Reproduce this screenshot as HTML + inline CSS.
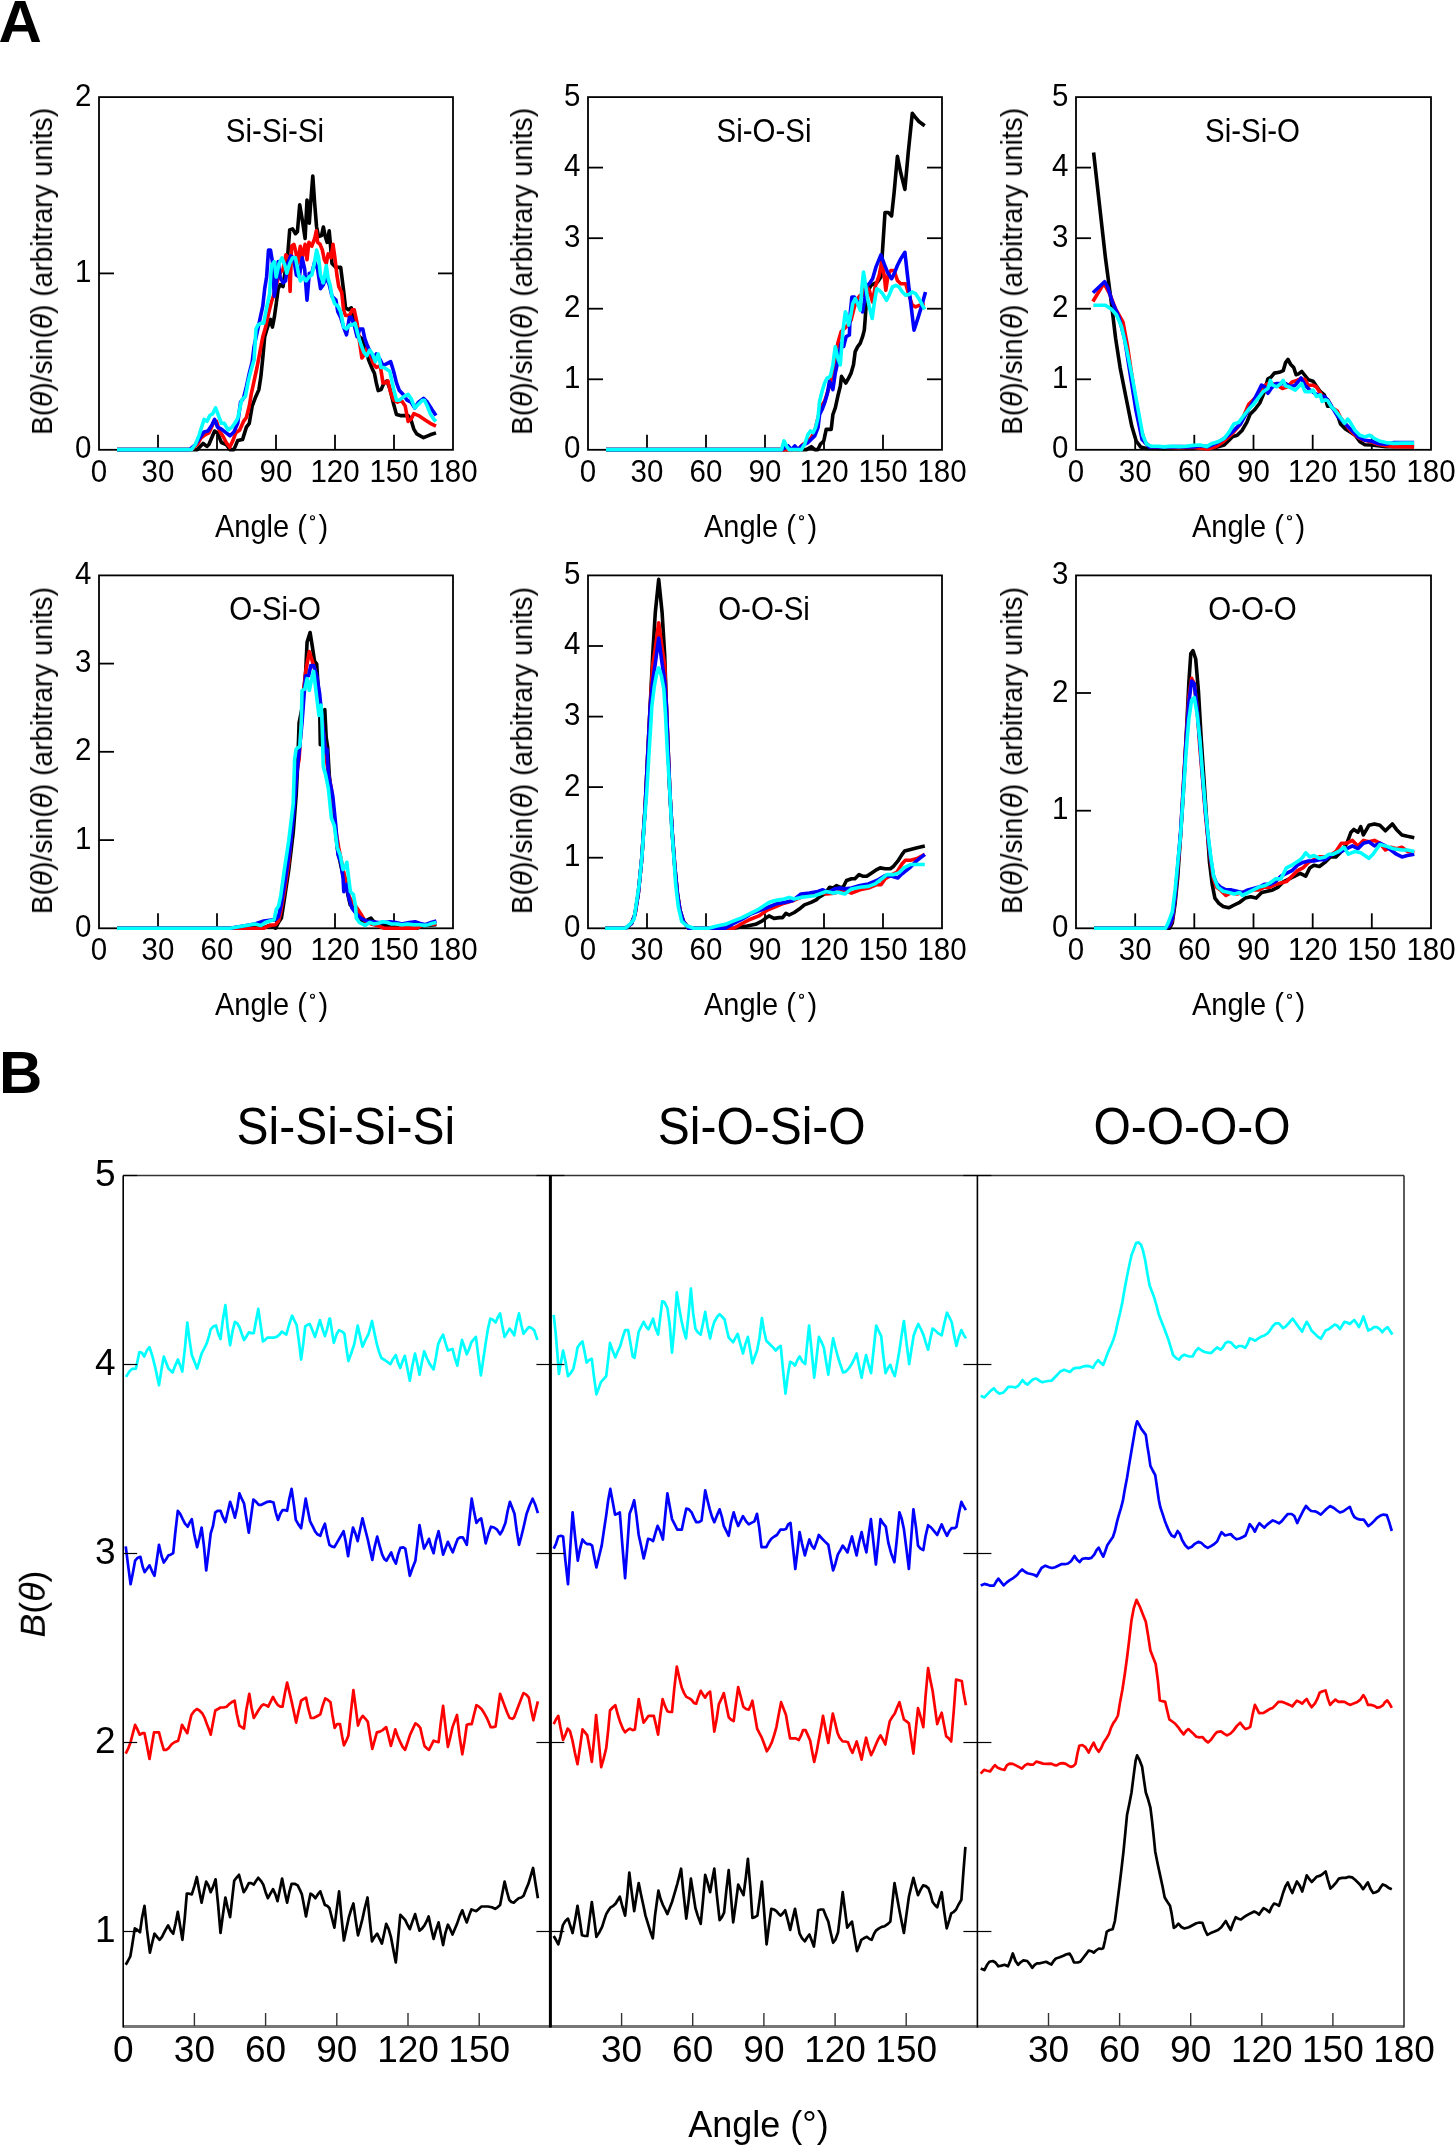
<!DOCTYPE html>
<html><head><meta charset="utf-8"><style>
html,body{margin:0;padding:0;background:#fff;}
svg{display:block;font-family:"Liberation Sans", sans-serif;}
text{-webkit-font-smoothing:antialiased;}
</style></head><body>
<svg width="1455" height="2145" viewBox="0 0 1455 2145">
<defs><filter id="gs" x="-5%" y="-5%" width="110%" height="110%"><feColorMatrix type="saturate" values="0"/></filter></defs>
<rect width="1455" height="2145" fill="#fff"/>
<text filter="url(#gs)" x="-1.5" y="41.8" font-size="60" text-anchor="start" font-weight="bold" font-style="normal" >A</text>
<text filter="url(#gs)" x="-1.0" y="1092.8" font-size="60" text-anchor="start" font-weight="bold" font-style="normal" >B</text>
<rect x="99.0" y="97.1" width="354.0" height="352.70000000000005" fill="none" stroke="#000" stroke-width="1.8"/>
<line x1="158.0" y1="449.8" x2="158.0" y2="434.8" stroke="#000" stroke-width="1.8"/>
<line x1="217.0" y1="449.8" x2="217.0" y2="434.8" stroke="#000" stroke-width="1.8"/>
<line x1="276.0" y1="449.8" x2="276.0" y2="434.8" stroke="#000" stroke-width="1.8"/>
<line x1="335.0" y1="449.8" x2="335.0" y2="434.8" stroke="#000" stroke-width="1.8"/>
<line x1="394.0" y1="449.8" x2="394.0" y2="434.8" stroke="#000" stroke-width="1.8"/>
<line x1="99.0" y1="273.4" x2="114.0" y2="273.4" stroke="#000" stroke-width="1.8"/>
<line x1="453.0" y1="273.4" x2="438.0" y2="273.4" stroke="#000" stroke-width="1.8"/>
<polyline points="117.0,449.6 197.3,449.6 203.1,443.5 206.9,446.4 208.9,444.5 214.6,431.0 217.5,432.9 221.4,442.5 226.2,444.5 230.0,449.6 233.9,449.6 237.7,440.6 242.5,439.6 246.4,427.1 249.3,423.3 252.2,406.0 255.1,398.3 258.9,389.6 260.8,377.1 262.8,357.9 264.7,336.7 267.6,327.1 270.5,319.4 272.4,327.1 274.3,317.4 276.2,304.0 278.2,288.6 280.1,284.7 283.0,286.6 285.5,269.3 287.8,253.9 289.7,229.9 292.6,228.9 295.5,233.7 297.4,231.8 299.7,204.8 302.2,219.3 305.1,238.5 307.0,200.0 309.3,223.1 310.9,200.0 312.8,176.0 314.7,203.9 316.6,227.0 318.6,236.6 321.5,235.6 323.4,227.0 325.3,236.6 327.2,242.4 329.2,230.8 330.1,240.5 332.0,263.5 335.9,267.4 340.7,267.4 343.6,290.5 345.5,307.8 348.4,309.7 351.3,307.8 354.2,323.2 357.1,334.8 361.9,338.6 364.8,346.3 368.6,359.8 372.5,369.4 374.4,373.2 376.3,382.9 378.2,390.6 381.1,389.6 384.0,382.9 386.9,380.9 389.8,388.6 391.7,396.3 393.6,404.0 396.5,414.6 400.4,415.6 404.2,415.6 408.1,415.6 410.9,419.4 413.8,429.1 416.7,433.9 423.5,437.7 430.2,434.8 436.0,432.9" fill="none" stroke="#000000" stroke-width="3.6" stroke-linejoin="round"/>
<polyline points="117.0,449.6 191.5,449.6 197.3,444.5 201.2,437.7 205.0,434.8 208.9,432.9 213.7,422.3 216.6,421.4 219.5,431.0 223.3,436.8 226.2,442.5 229.7,447.3 232.9,440.6 235.8,432.9 239.7,430.0 243.5,421.4 246.4,417.5 249.3,406.0 251.2,394.4 254.1,380.9 257.0,367.5 259.9,352.1 262.8,336.7 265.6,327.1 268.5,313.6 271.4,302.0 273.3,296.3 276.2,284.7 278.2,278.9 280.1,273.2 283.0,269.3 285.9,254.9 288.7,257.8 290.1,291.5 291.6,246.2 293.9,244.3 295.9,252.0 297.8,263.5 300.3,246.2 302.2,257.8 305.1,244.3 307.0,259.7 308.9,242.4 311.8,246.2 314.7,238.5 316.3,230.8 317.6,242.4 320.1,244.3 322.4,250.1 324.3,259.7 326.3,263.5 328.2,253.9 331.1,257.8 333.0,244.3 334.9,257.8 336.9,275.1 338.8,286.6 341.7,292.4 343.6,309.7 345.5,315.5 349.4,315.5 352.2,309.7 354.2,309.7 357.1,323.2 359.9,344.4 361.9,357.9 364.8,354.0 367.6,346.3 370.5,355.9 373.4,363.6 376.3,367.5 380.2,365.6 383.0,382.9 385.0,382.9 387.9,380.9 390.7,392.5 393.6,400.2 397.5,402.1 401.3,400.2 405.2,406.0 408.1,421.4 410.9,419.4 413.8,413.7 418.6,415.6 424.4,419.4 430.2,423.3 436.0,426.2" fill="none" stroke="#ff0000" stroke-width="3.6" stroke-linejoin="round"/>
<polyline points="117.0,449.6 189.6,449.6 195.4,444.5 199.2,438.7 204.1,431.9 207.9,431.0 211.8,425.2 214.6,419.4 217.5,427.1 221.4,429.1 226.2,432.9 230.0,435.8 233.9,431.9 237.7,423.3 240.6,402.1 243.5,398.3 246.4,386.7 249.3,373.2 252.2,361.7 254.1,346.3 257.0,332.8 259.9,319.4 262.8,305.9 264.7,288.6 266.6,277.0 268.5,250.1 270.5,250.1 272.4,261.6 274.3,296.3 276.2,284.7 278.2,261.6 280.1,277.0 283.0,282.8 285.5,280.9 287.8,263.5 290.7,255.9 293.5,257.8 296.4,275.1 299.3,277.0 302.2,257.8 304.7,269.3 307.0,300.1 309.3,273.2 311.8,273.2 314.7,261.6 317.6,269.3 320.5,288.6 323.4,284.7 326.3,277.0 329.2,284.7 332.0,296.3 335.9,300.1 337.8,311.7 340.7,317.4 343.6,327.1 346.5,334.8 349.4,317.4 351.3,317.4 354.2,325.1 357.1,336.7 359.9,329.0 362.8,329.0 364.8,338.6 367.6,346.3 370.5,352.1 373.4,357.9 376.3,354.0 380.2,359.8 383.0,365.6 386.9,363.6 390.7,361.7 393.6,371.3 396.5,382.9 399.4,390.6 403.2,394.4 407.1,400.2 410.9,402.1 414.8,407.9 418.6,402.1 423.5,398.3 427.3,402.1 432.1,409.8 436.0,415.6" fill="none" stroke="#0000ff" stroke-width="3.6" stroke-linejoin="round"/>
<polyline points="117.0,449.6 191.5,449.6 195.4,444.5 199.2,434.8 204.1,419.4 206.9,421.4 209.8,415.6 212.7,413.7 215.6,407.9 218.5,415.6 221.4,423.3 224.3,423.3 228.1,430.0 232.0,427.1 234.8,423.3 237.7,418.5 241.6,400.2 245.4,396.3 248.3,380.9 251.2,369.4 254.1,359.8 256.0,329.0 257.9,325.1 260.8,323.2 263.7,323.2 266.6,307.8 269.5,294.3 271.4,265.5 274.3,261.6 276.2,277.0 279.1,263.5 282.0,257.8 284.9,265.5 286.8,273.2 289.7,263.5 292.6,257.8 295.5,257.8 298.4,273.2 300.3,280.9 303.2,277.0 306.1,280.9 308.9,277.0 311.8,275.1 314.7,261.6 316.6,250.1 318.6,257.8 320.5,275.1 323.4,282.8 326.3,265.5 328.2,278.9 330.1,284.7 332.0,296.3 334.9,304.0 337.8,305.9 340.7,311.7 343.6,327.1 346.5,329.0 349.4,325.1 352.2,325.1 355.1,323.2 358.0,334.8 360.9,344.4 363.8,352.1 366.7,355.9 369.6,350.2 372.5,354.0 375.3,361.7 378.2,354.0 381.1,367.5 384.0,367.5 386.9,369.4 389.8,371.3 393.6,388.6 396.5,400.2 399.4,400.2 404.2,396.3 408.1,394.4 410.9,398.3 414.8,407.9 418.6,404.0 422.5,400.2 424.4,400.2 427.3,406.0 430.2,413.7 434.0,419.4 436.0,421.4" fill="none" stroke="#00ffff" stroke-width="3.6" stroke-linejoin="round"/>
<text filter="url(#gs)" transform="translate(99.00,481.50) scale(1,1.08)" font-size="29.5" text-anchor="middle" font-weight="normal" font-style="normal" >0</text>
<text filter="url(#gs)" transform="translate(158.00,481.50) scale(1,1.08)" font-size="29.5" text-anchor="middle" font-weight="normal" font-style="normal" >30</text>
<text filter="url(#gs)" transform="translate(217.00,481.50) scale(1,1.08)" font-size="29.5" text-anchor="middle" font-weight="normal" font-style="normal" >60</text>
<text filter="url(#gs)" transform="translate(276.00,481.50) scale(1,1.08)" font-size="29.5" text-anchor="middle" font-weight="normal" font-style="normal" >90</text>
<text filter="url(#gs)" transform="translate(335.00,481.50) scale(1,1.08)" font-size="29.5" text-anchor="middle" font-weight="normal" font-style="normal" >120</text>
<text filter="url(#gs)" transform="translate(394.00,481.50) scale(1,1.08)" font-size="29.5" text-anchor="middle" font-weight="normal" font-style="normal" >150</text>
<text filter="url(#gs)" transform="translate(453.00,481.50) scale(1,1.08)" font-size="29.5" text-anchor="middle" font-weight="normal" font-style="normal" >180</text>
<text filter="url(#gs)" transform="translate(91.50,458.30) scale(1,1.08)" font-size="29.5" text-anchor="end" font-weight="normal" font-style="normal" >0</text>
<text filter="url(#gs)" transform="translate(91.50,281.95) scale(1,1.08)" font-size="29.5" text-anchor="end" font-weight="normal" font-style="normal" >1</text>
<text filter="url(#gs)" transform="translate(91.50,105.60) scale(1,1.08)" font-size="29.5" text-anchor="end" font-weight="normal" font-style="normal" >2</text>
<text filter="url(#gs)" transform="translate(275.00,141.60) scale(1,1.1)" font-size="29.5" text-anchor="middle" font-weight="normal" font-style="normal" >Si-Si-Si</text>
<text filter="url(#gs)" transform="translate(215.0,536.8) scale(1,1.06)" font-size="29" text-anchor="start">Angle (</text>
<circle cx="312.5" cy="517.7" r="1.95" fill="none" stroke="#000" stroke-width="1.2"/>
<text filter="url(#gs)" transform="translate(318.5,536.8) scale(1,1.06)" font-size="29" text-anchor="start">)</text>
<text filter="url(#gs)" transform="translate(52.0,271.4) rotate(-90)" x="0" y="0" font-size="29" textLength="327" lengthAdjust="spacingAndGlyphs" text-anchor="middle">B(<tspan font-style="italic">&#952;</tspan>)/sin(<tspan font-style="italic">&#952;</tspan>) (arbitrary units)</text>
<rect x="588.0" y="97.1" width="354.0" height="352.70000000000005" fill="none" stroke="#000" stroke-width="1.8"/>
<line x1="647.0" y1="449.8" x2="647.0" y2="434.8" stroke="#000" stroke-width="1.8"/>
<line x1="706.0" y1="449.8" x2="706.0" y2="434.8" stroke="#000" stroke-width="1.8"/>
<line x1="765.0" y1="449.8" x2="765.0" y2="434.8" stroke="#000" stroke-width="1.8"/>
<line x1="824.0" y1="449.8" x2="824.0" y2="434.8" stroke="#000" stroke-width="1.8"/>
<line x1="883.0" y1="449.8" x2="883.0" y2="434.8" stroke="#000" stroke-width="1.8"/>
<line x1="588.0" y1="379.3" x2="603.0" y2="379.3" stroke="#000" stroke-width="1.8"/>
<line x1="942.0" y1="379.3" x2="927.0" y2="379.3" stroke="#000" stroke-width="1.8"/>
<line x1="588.0" y1="308.7" x2="603.0" y2="308.7" stroke="#000" stroke-width="1.8"/>
<line x1="942.0" y1="308.7" x2="927.0" y2="308.7" stroke="#000" stroke-width="1.8"/>
<line x1="588.0" y1="238.2" x2="603.0" y2="238.2" stroke="#000" stroke-width="1.8"/>
<line x1="942.0" y1="238.2" x2="927.0" y2="238.2" stroke="#000" stroke-width="1.8"/>
<line x1="588.0" y1="167.6" x2="603.0" y2="167.6" stroke="#000" stroke-width="1.8"/>
<line x1="942.0" y1="167.6" x2="927.0" y2="167.6" stroke="#000" stroke-width="1.8"/>
<polyline points="606.0,449.6 806.4,449.6 811.3,446.7 814.7,449.6 818.0,449.6 820.4,444.3 823.8,440.9 826.2,429.4 831.2,429.4 832.9,414.5 835.3,407.8 837.8,396.3 840.3,386.3 841.5,376.4 843.6,379.7 845.8,383.0 848.6,378.1 851.1,373.1 853.5,364.8 855.2,351.6 857.7,346.6 860.2,343.3 862.6,336.7 864.3,330.1 865.1,320.1 866.0,306.9 867.6,292.0 870.9,285.4 874.2,283.7 877.5,282.1 880.9,277.1 882.5,250.6 885.0,212.5 888.3,212.5 891.6,215.9 894.1,192.7 897.4,156.3 900.7,172.8 904.9,189.4 908.2,153.0 912.3,113.2 914.8,116.6 918.9,121.5 924.7,125.7" fill="none" stroke="#000000" stroke-width="3.6" stroke-linejoin="round"/>
<polyline points="606.0,449.6 798.1,449.6 803.1,444.3 808.0,440.9 811.3,437.6 814.7,431.0 818.0,417.8 821.3,406.2 824.6,401.2 827.9,391.3 831.2,379.7 834.5,363.2 837.8,343.3 841.1,331.7 844.4,328.4 847.8,325.1 851.1,320.1 854.4,306.9 857.7,298.6 860.2,295.3 862.6,295.3 866.0,285.4 869.3,290.3 872.6,301.9 875.1,287.0 879.2,275.4 881.7,262.2 884.2,275.4 885.8,290.3 888.3,273.8 890.8,270.5 894.1,270.5 897.4,280.4 900.7,283.7 905.7,283.7 909.0,295.3 912.3,305.2 915.6,306.9 919.8,305.2 924.7,303.6" fill="none" stroke="#ff0000" stroke-width="3.6" stroke-linejoin="round"/>
<polyline points="606.0,449.6 781.6,449.6 788.2,445.9 791.5,449.6 794.8,445.9 798.1,449.6 801.4,445.9 804.7,444.3 808.0,442.6 811.3,439.3 814.7,436.0 818.0,427.7 819.6,414.5 822.1,409.5 824.6,402.9 827.1,394.6 829.5,381.4 832.9,389.6 835.3,373.1 837.8,361.5 841.1,343.3 843.6,346.6 846.1,336.7 849.4,335.0 850.2,313.5 851.9,297.0 854.4,297.0 856.9,301.9 859.3,301.9 862.6,311.9 865.1,297.0 866.8,285.4 869.3,283.7 872.6,278.7 875.9,267.2 880.9,254.8 884.2,263.9 887.5,272.1 891.6,278.7 894.1,273.8 897.4,265.5 900.7,258.9 904.9,252.3 907.3,273.8 910.6,301.9 914.0,330.1 917.3,320.1 921.4,306.9 925.5,292.0" fill="none" stroke="#0000ff" stroke-width="3.6" stroke-linejoin="round"/>
<polyline points="606.0,449.6 781.6,449.6 784.0,440.9 786.5,445.9 789.0,449.6 793.1,449.6 798.1,449.6 801.4,449.6 804.7,444.3 808.0,434.3 810.5,431.0 813.0,432.7 815.5,427.7 818.0,417.8 819.6,401.2 822.1,391.3 824.6,383.0 827.1,378.1 830.4,376.4 832.9,364.8 835.3,346.6 837.8,358.2 840.3,364.8 842.8,331.7 845.3,311.9 846.9,315.2 848.6,325.1 851.1,313.5 852.7,303.6 855.2,298.6 857.7,303.6 860.2,310.2 861.8,288.7 863.5,272.1 865.1,282.1 867.6,298.6 869.3,306.9 872.2,318.5 874.2,303.6 876.7,288.7 879.2,290.3 882.5,293.6 886.6,300.3 889.1,295.3 892.4,287.0 895.8,285.4 899.1,287.0 902.4,292.0 905.7,295.3 909.0,294.5 912.3,292.0 915.6,293.6 919.8,300.3 924.7,309.4" fill="none" stroke="#00ffff" stroke-width="3.6" stroke-linejoin="round"/>
<text filter="url(#gs)" transform="translate(588.00,481.50) scale(1,1.08)" font-size="29.5" text-anchor="middle" font-weight="normal" font-style="normal" >0</text>
<text filter="url(#gs)" transform="translate(647.00,481.50) scale(1,1.08)" font-size="29.5" text-anchor="middle" font-weight="normal" font-style="normal" >30</text>
<text filter="url(#gs)" transform="translate(706.00,481.50) scale(1,1.08)" font-size="29.5" text-anchor="middle" font-weight="normal" font-style="normal" >60</text>
<text filter="url(#gs)" transform="translate(765.00,481.50) scale(1,1.08)" font-size="29.5" text-anchor="middle" font-weight="normal" font-style="normal" >90</text>
<text filter="url(#gs)" transform="translate(824.00,481.50) scale(1,1.08)" font-size="29.5" text-anchor="middle" font-weight="normal" font-style="normal" >120</text>
<text filter="url(#gs)" transform="translate(883.00,481.50) scale(1,1.08)" font-size="29.5" text-anchor="middle" font-weight="normal" font-style="normal" >150</text>
<text filter="url(#gs)" transform="translate(942.00,481.50) scale(1,1.08)" font-size="29.5" text-anchor="middle" font-weight="normal" font-style="normal" >180</text>
<text filter="url(#gs)" transform="translate(580.50,458.30) scale(1,1.08)" font-size="29.5" text-anchor="end" font-weight="normal" font-style="normal" >0</text>
<text filter="url(#gs)" transform="translate(580.50,387.76) scale(1,1.08)" font-size="29.5" text-anchor="end" font-weight="normal" font-style="normal" >1</text>
<text filter="url(#gs)" transform="translate(580.50,317.22) scale(1,1.08)" font-size="29.5" text-anchor="end" font-weight="normal" font-style="normal" >2</text>
<text filter="url(#gs)" transform="translate(580.50,246.68) scale(1,1.08)" font-size="29.5" text-anchor="end" font-weight="normal" font-style="normal" >3</text>
<text filter="url(#gs)" transform="translate(580.50,176.14) scale(1,1.08)" font-size="29.5" text-anchor="end" font-weight="normal" font-style="normal" >4</text>
<text filter="url(#gs)" transform="translate(580.50,105.60) scale(1,1.08)" font-size="29.5" text-anchor="end" font-weight="normal" font-style="normal" >5</text>
<text filter="url(#gs)" transform="translate(764.00,141.60) scale(1,1.1)" font-size="29.5" text-anchor="middle" font-weight="normal" font-style="normal" >Si-O-Si</text>
<text filter="url(#gs)" transform="translate(704.0,536.8) scale(1,1.06)" font-size="29" text-anchor="start">Angle (</text>
<circle cx="801.5" cy="517.7" r="1.95" fill="none" stroke="#000" stroke-width="1.2"/>
<text filter="url(#gs)" transform="translate(807.5,536.8) scale(1,1.06)" font-size="29" text-anchor="start">)</text>
<text filter="url(#gs)" transform="translate(532.0,271.4) rotate(-90)" x="0" y="0" font-size="29" textLength="327" lengthAdjust="spacingAndGlyphs" text-anchor="middle">B(<tspan font-style="italic">&#952;</tspan>)/sin(<tspan font-style="italic">&#952;</tspan>) (arbitrary units)</text>
<rect x="1076.0" y="97.1" width="355.0" height="352.70000000000005" fill="none" stroke="#000" stroke-width="1.8"/>
<line x1="1135.2" y1="449.8" x2="1135.2" y2="434.8" stroke="#000" stroke-width="1.8"/>
<line x1="1194.3" y1="449.8" x2="1194.3" y2="434.8" stroke="#000" stroke-width="1.8"/>
<line x1="1253.5" y1="449.8" x2="1253.5" y2="434.8" stroke="#000" stroke-width="1.8"/>
<line x1="1312.7" y1="449.8" x2="1312.7" y2="434.8" stroke="#000" stroke-width="1.8"/>
<line x1="1371.8" y1="449.8" x2="1371.8" y2="434.8" stroke="#000" stroke-width="1.8"/>
<line x1="1076.0" y1="379.3" x2="1091.0" y2="379.3" stroke="#000" stroke-width="1.8"/>
<line x1="1076.0" y1="308.7" x2="1091.0" y2="308.7" stroke="#000" stroke-width="1.8"/>
<line x1="1076.0" y1="238.2" x2="1091.0" y2="238.2" stroke="#000" stroke-width="1.8"/>
<line x1="1076.0" y1="167.6" x2="1091.0" y2="167.6" stroke="#000" stroke-width="1.8"/>
<polyline points="1093.6,152.5 1105.4,257.5 1111.2,301.5 1115.6,338.2 1120.1,367.6 1125.9,397.0 1131.8,426.3 1136.2,441.0 1140.6,446.9 1146.5,448.4 1164.1,448.7 1193.5,448.4 1200.0,447.4 1208.1,448.2 1216.2,447.4 1224.2,445.0 1232.3,436.9 1237.2,435.3 1242.0,430.5 1246.8,422.4 1250.1,414.3 1254.9,409.5 1259.8,403.0 1263.8,393.3 1267.9,378.8 1271.1,377.2 1274.3,373.1 1279.2,372.3 1283.2,370.7 1285.6,362.6 1288.0,359.4 1290.5,364.2 1293.7,367.5 1296.1,374.7 1298.5,373.9 1301.8,371.5 1305.0,375.5 1308.2,379.6 1313.1,381.2 1316.3,386.0 1320.4,391.7 1324.4,394.9 1327.6,406.2 1330.9,406.2 1334.1,409.5 1337.3,414.3 1340.5,424.0 1345.4,428.9 1350.2,432.1 1355.1,435.3 1359.9,441.8 1364.8,444.7 1371.2,445.0 1377.7,445.8 1385.8,446.6 1393.9,446.6 1401.9,446.6 1414.1,446.6" fill="none" stroke="#000000" stroke-width="3.6" stroke-linejoin="round"/>
<polyline points="1092.9,301.5 1103.9,283.2 1109.8,294.2 1115.6,308.9 1123.0,322.1 1127.4,345.6 1131.8,374.9 1136.2,404.3 1140.6,427.8 1145.0,442.5 1150.9,446.9 1164.1,447.2 1178.8,447.6 1193.5,447.2 1200.0,448.2 1208.1,449.0 1216.2,446.6 1224.2,441.0 1232.3,433.7 1240.4,424.0 1248.5,404.6 1253.3,399.8 1258.2,394.9 1263.0,386.8 1267.9,383.6 1272.7,383.6 1277.5,385.2 1282.4,388.5 1287.2,386.8 1292.1,382.0 1296.9,380.4 1300.2,378.8 1305.0,379.6 1308.2,385.2 1313.1,385.2 1316.3,386.8 1319.5,391.7 1322.8,396.5 1327.6,399.8 1332.5,407.9 1337.3,411.1 1340.5,417.5 1345.4,424.0 1350.2,430.5 1355.1,435.3 1359.9,438.5 1364.8,440.2 1371.2,441.8 1377.7,444.2 1385.8,445.8 1393.9,446.6 1401.9,446.6 1414.1,446.9" fill="none" stroke="#ff0000" stroke-width="3.6" stroke-linejoin="round"/>
<polyline points="1092.9,292.7 1104.6,281.7 1107.6,286.8 1112.7,303.0 1118.6,316.2 1124.5,338.2 1130.3,374.9 1136.2,411.7 1142.1,439.6 1149.4,446.9 1164.1,446.9 1178.8,446.6 1193.5,446.9 1200.0,445.8 1208.1,446.6 1216.2,443.4 1224.2,438.5 1232.3,432.1 1240.4,424.0 1248.5,409.5 1253.3,401.4 1258.2,391.7 1261.4,385.2 1264.6,386.8 1267.9,393.3 1271.1,388.5 1275.9,383.6 1280.8,383.6 1285.6,383.6 1290.5,386.8 1295.3,385.2 1301.0,378.0 1305.0,385.2 1309.9,390.1 1314.7,393.3 1319.5,395.7 1324.4,396.5 1327.6,399.8 1332.5,407.9 1337.3,415.9 1342.2,420.8 1347.0,425.6 1351.9,430.5 1358.3,436.9 1364.8,440.2 1371.2,441.0 1377.7,443.4 1385.8,444.2 1393.9,442.6 1401.9,442.6 1414.1,442.6" fill="none" stroke="#0000ff" stroke-width="3.6" stroke-linejoin="round"/>
<polyline points="1093.3,305.2 1105.4,305.2 1111.2,308.9 1116.4,314.7 1121.5,326.5 1125.9,345.6 1131.8,374.9 1137.7,407.3 1142.8,435.2 1146.5,444.0 1150.9,446.2 1158.2,446.2 1164.1,446.9 1171.4,446.2 1178.8,446.6 1186.1,446.2 1193.5,445.4 1200.0,445.0 1206.5,446.6 1212.1,443.4 1217.8,441.8 1224.2,438.5 1229.1,432.1 1233.9,424.0 1238.8,422.4 1243.6,415.9 1248.5,409.5 1253.3,404.6 1258.2,398.2 1263.0,391.7 1267.9,388.5 1270.3,380.4 1272.7,385.2 1276.7,386.8 1280.8,383.6 1283.2,380.4 1285.6,386.0 1288.9,386.8 1292.1,388.5 1295.3,390.1 1298.5,386.8 1301.8,383.6 1305.0,391.7 1309.9,391.7 1313.1,390.1 1316.3,396.5 1320.4,394.9 1322.0,401.4 1325.2,399.8 1327.6,400.6 1330.9,406.2 1335.7,411.1 1340.5,417.5 1344.6,423.2 1347.8,419.2 1350.2,422.4 1355.1,430.5 1359.9,435.3 1364.8,436.9 1369.6,435.3 1374.5,438.5 1379.3,441.0 1385.8,442.6 1393.9,443.4 1401.9,443.1 1414.1,443.1" fill="none" stroke="#00ffff" stroke-width="3.6" stroke-linejoin="round"/>
<text filter="url(#gs)" transform="translate(1076.00,481.50) scale(1,1.08)" font-size="29.5" text-anchor="middle" font-weight="normal" font-style="normal" >0</text>
<text filter="url(#gs)" transform="translate(1135.17,481.50) scale(1,1.08)" font-size="29.5" text-anchor="middle" font-weight="normal" font-style="normal" >30</text>
<text filter="url(#gs)" transform="translate(1194.33,481.50) scale(1,1.08)" font-size="29.5" text-anchor="middle" font-weight="normal" font-style="normal" >60</text>
<text filter="url(#gs)" transform="translate(1253.50,481.50) scale(1,1.08)" font-size="29.5" text-anchor="middle" font-weight="normal" font-style="normal" >90</text>
<text filter="url(#gs)" transform="translate(1312.67,481.50) scale(1,1.08)" font-size="29.5" text-anchor="middle" font-weight="normal" font-style="normal" >120</text>
<text filter="url(#gs)" transform="translate(1371.83,481.50) scale(1,1.08)" font-size="29.5" text-anchor="middle" font-weight="normal" font-style="normal" >150</text>
<text filter="url(#gs)" transform="translate(1431.00,481.50) scale(1,1.08)" font-size="29.5" text-anchor="middle" font-weight="normal" font-style="normal" >180</text>
<text filter="url(#gs)" transform="translate(1068.50,458.30) scale(1,1.08)" font-size="29.5" text-anchor="end" font-weight="normal" font-style="normal" >0</text>
<text filter="url(#gs)" transform="translate(1068.50,387.76) scale(1,1.08)" font-size="29.5" text-anchor="end" font-weight="normal" font-style="normal" >1</text>
<text filter="url(#gs)" transform="translate(1068.50,317.22) scale(1,1.08)" font-size="29.5" text-anchor="end" font-weight="normal" font-style="normal" >2</text>
<text filter="url(#gs)" transform="translate(1068.50,246.68) scale(1,1.08)" font-size="29.5" text-anchor="end" font-weight="normal" font-style="normal" >3</text>
<text filter="url(#gs)" transform="translate(1068.50,176.14) scale(1,1.08)" font-size="29.5" text-anchor="end" font-weight="normal" font-style="normal" >4</text>
<text filter="url(#gs)" transform="translate(1068.50,105.60) scale(1,1.08)" font-size="29.5" text-anchor="end" font-weight="normal" font-style="normal" >5</text>
<text filter="url(#gs)" transform="translate(1252.50,141.60) scale(1,1.1)" font-size="29.5" text-anchor="middle" font-weight="normal" font-style="normal" >Si-Si-O</text>
<text filter="url(#gs)" transform="translate(1192.0,536.8) scale(1,1.06)" font-size="29" text-anchor="start">Angle (</text>
<circle cx="1289.5" cy="517.7" r="1.95" fill="none" stroke="#000" stroke-width="1.2"/>
<text filter="url(#gs)" transform="translate(1295.5,536.8) scale(1,1.06)" font-size="29" text-anchor="start">)</text>
<text filter="url(#gs)" transform="translate(1022.0,271.4) rotate(-90)" x="0" y="0" font-size="29" textLength="327" lengthAdjust="spacingAndGlyphs" text-anchor="middle">B(<tspan font-style="italic">&#952;</tspan>)/sin(<tspan font-style="italic">&#952;</tspan>) (arbitrary units)</text>
<rect x="99.0" y="575.4" width="354.0" height="352.9" fill="none" stroke="#000" stroke-width="1.8"/>
<line x1="158.0" y1="928.3" x2="158.0" y2="913.3" stroke="#000" stroke-width="1.8"/>
<line x1="217.0" y1="928.3" x2="217.0" y2="913.3" stroke="#000" stroke-width="1.8"/>
<line x1="276.0" y1="928.3" x2="276.0" y2="913.3" stroke="#000" stroke-width="1.8"/>
<line x1="335.0" y1="928.3" x2="335.0" y2="913.3" stroke="#000" stroke-width="1.8"/>
<line x1="394.0" y1="928.3" x2="394.0" y2="913.3" stroke="#000" stroke-width="1.8"/>
<line x1="99.0" y1="840.1" x2="114.0" y2="840.1" stroke="#000" stroke-width="1.8"/>
<line x1="99.0" y1="751.8" x2="114.0" y2="751.8" stroke="#000" stroke-width="1.8"/>
<line x1="99.0" y1="663.6" x2="114.0" y2="663.6" stroke="#000" stroke-width="1.8"/>
<polyline points="117.0,928.2 230.0,928.2 255.0,925.4 262.3,928.2 269.7,925.4 275.6,928.2 278.5,922.5 281.4,918.1 284.4,899.0 288.8,869.6 293.2,832.9 296.1,796.2 297.6,766.8 299.1,722.8 302.0,708.1 305.7,671.4 307.1,642.0 310.1,632.5 312.3,646.4 314.5,661.1 316.7,664.1 318.1,686.1 319.6,702.2 320.3,744.8 322.5,714.0 324.8,709.6 326.2,737.5 327.7,747.8 329.2,774.2 331.4,796.2 335.0,825.6 337.2,847.6 340.2,862.3 343.1,875.5 346.0,884.3 348.2,896.1 350.2,904.9 352.7,906.3 355.6,912.2 359.3,918.1 363.7,922.5 368.1,919.6 371.0,918.1 373.2,921.0 376.9,924.0 382.8,925.4 390.1,925.4 398.9,928.2 409.2,928.2 416.5,928.2 423.9,925.4 436.4,924.7" fill="none" stroke="#000000" stroke-width="3.6" stroke-linejoin="round"/>
<polyline points="117.0,928.2 230.0,928.2 255.0,928.2 263.8,928.2 269.7,925.4 275.6,924.7 278.5,921.0 280.7,912.2 284.4,891.7 288.8,862.3 293.2,810.9 296.1,774.2 299.1,759.5 301.3,722.8 303.5,693.4 305.7,671.4 309.3,651.6 312.3,661.1 314.5,668.5 316.7,678.7 319.6,702.2 322.5,722.8 325.5,752.2 328.4,774.2 331.4,788.9 335.0,825.6 338.7,847.6 343.1,869.6 346.0,881.4 349.0,896.1 351.9,901.9 354.9,904.9 357.8,909.3 360.7,913.7 365.1,921.0 371.0,924.0 376.9,925.4 384.2,928.2 391.6,928.2 401.8,928.2 409.2,928.2 416.5,928.2 423.9,924.7 436.4,924.0" fill="none" stroke="#ff0000" stroke-width="3.6" stroke-linejoin="round"/>
<polyline points="117.0,928.2 230.0,928.2 255.0,924.0 259.4,922.5 263.8,921.0 269.7,920.3 275.6,919.6 278.5,916.6 281.4,903.4 285.8,877.0 290.2,847.6 293.2,818.2 296.1,781.5 299.1,752.2 302.0,722.8 304.2,693.4 305.7,675.8 308.6,675.8 310.8,665.5 313.7,665.5 316.7,675.8 319.6,693.4 322.5,722.8 325.5,752.2 327.0,749.2 328.4,774.2 332.8,796.2 335.8,825.6 338.0,854.9 340.9,862.3 343.1,878.4 343.8,891.7 346.8,884.3 349.0,899.0 351.9,907.8 356.3,913.7 360.7,918.1 366.6,921.0 372.5,921.8 378.3,922.5 384.2,922.5 390.1,921.8 396.0,922.5 401.8,924.0 409.2,922.5 415.1,921.8 419.5,923.2 425.3,924.7 431.2,922.5 436.4,921.0" fill="none" stroke="#0000ff" stroke-width="3.6" stroke-linejoin="round"/>
<polyline points="117.0,928.2 230.0,928.2 255.0,924.0 260.9,925.4 265.3,922.5 269.7,921.0 274.1,919.6 276.3,909.3 278.5,906.3 280.7,896.1 284.4,869.6 288.8,840.3 293.2,803.6 294.6,759.5 296.1,749.2 299.8,746.3 301.3,722.8 302.0,690.5 304.9,689.0 307.1,678.7 309.3,690.5 312.3,675.8 313.7,671.4 315.9,690.5 318.9,715.4 321.1,705.2 321.8,715.4 322.5,737.5 323.3,766.8 325.5,774.2 328.4,788.9 331.4,818.2 334.3,825.6 337.2,847.6 340.2,854.9 343.1,869.6 345.3,866.7 346.8,862.3 348.2,874.0 350.4,891.7 353.4,894.6 355.6,906.3 356.3,918.1 359.3,922.5 365.1,925.4 369.5,922.5 373.9,924.0 378.3,923.2 382.8,921.8 387.2,922.5 391.6,924.0 397.4,924.0 401.8,924.7 407.7,924.0 413.6,924.7 419.5,924.7 423.9,925.4 428.3,924.7 432.7,923.2 436.4,922.5" fill="none" stroke="#00ffff" stroke-width="3.6" stroke-linejoin="round"/>
<text filter="url(#gs)" transform="translate(99.00,960.00) scale(1,1.08)" font-size="29.5" text-anchor="middle" font-weight="normal" font-style="normal" >0</text>
<text filter="url(#gs)" transform="translate(158.00,960.00) scale(1,1.08)" font-size="29.5" text-anchor="middle" font-weight="normal" font-style="normal" >30</text>
<text filter="url(#gs)" transform="translate(217.00,960.00) scale(1,1.08)" font-size="29.5" text-anchor="middle" font-weight="normal" font-style="normal" >60</text>
<text filter="url(#gs)" transform="translate(276.00,960.00) scale(1,1.08)" font-size="29.5" text-anchor="middle" font-weight="normal" font-style="normal" >90</text>
<text filter="url(#gs)" transform="translate(335.00,960.00) scale(1,1.08)" font-size="29.5" text-anchor="middle" font-weight="normal" font-style="normal" >120</text>
<text filter="url(#gs)" transform="translate(394.00,960.00) scale(1,1.08)" font-size="29.5" text-anchor="middle" font-weight="normal" font-style="normal" >150</text>
<text filter="url(#gs)" transform="translate(453.00,960.00) scale(1,1.08)" font-size="29.5" text-anchor="middle" font-weight="normal" font-style="normal" >180</text>
<text filter="url(#gs)" transform="translate(91.50,936.80) scale(1,1.08)" font-size="29.5" text-anchor="end" font-weight="normal" font-style="normal" >0</text>
<text filter="url(#gs)" transform="translate(91.50,848.57) scale(1,1.08)" font-size="29.5" text-anchor="end" font-weight="normal" font-style="normal" >1</text>
<text filter="url(#gs)" transform="translate(91.50,760.35) scale(1,1.08)" font-size="29.5" text-anchor="end" font-weight="normal" font-style="normal" >2</text>
<text filter="url(#gs)" transform="translate(91.50,672.12) scale(1,1.08)" font-size="29.5" text-anchor="end" font-weight="normal" font-style="normal" >3</text>
<text filter="url(#gs)" transform="translate(91.50,583.90) scale(1,1.08)" font-size="29.5" text-anchor="end" font-weight="normal" font-style="normal" >4</text>
<text filter="url(#gs)" transform="translate(275.00,619.90) scale(1,1.1)" font-size="29.5" text-anchor="middle" font-weight="normal" font-style="normal" >O-Si-O</text>
<text filter="url(#gs)" transform="translate(215.0,1015.3) scale(1,1.06)" font-size="29" text-anchor="start">Angle (</text>
<circle cx="312.5" cy="996.2" r="1.95" fill="none" stroke="#000" stroke-width="1.2"/>
<text filter="url(#gs)" transform="translate(318.5,1015.3) scale(1,1.06)" font-size="29" text-anchor="start">)</text>
<text filter="url(#gs)" transform="translate(52.0,750.6) rotate(-90)" x="0" y="0" font-size="29" textLength="327" lengthAdjust="spacingAndGlyphs" text-anchor="middle">B(<tspan font-style="italic">&#952;</tspan>)/sin(<tspan font-style="italic">&#952;</tspan>) (arbitrary units)</text>
<rect x="588.0" y="575.4" width="354.0" height="352.9" fill="none" stroke="#000" stroke-width="1.8"/>
<line x1="647.0" y1="928.3" x2="647.0" y2="913.3" stroke="#000" stroke-width="1.8"/>
<line x1="706.0" y1="928.3" x2="706.0" y2="913.3" stroke="#000" stroke-width="1.8"/>
<line x1="765.0" y1="928.3" x2="765.0" y2="913.3" stroke="#000" stroke-width="1.8"/>
<line x1="824.0" y1="928.3" x2="824.0" y2="913.3" stroke="#000" stroke-width="1.8"/>
<line x1="883.0" y1="928.3" x2="883.0" y2="913.3" stroke="#000" stroke-width="1.8"/>
<line x1="588.0" y1="857.7" x2="603.0" y2="857.7" stroke="#000" stroke-width="1.8"/>
<line x1="588.0" y1="787.1" x2="603.0" y2="787.1" stroke="#000" stroke-width="1.8"/>
<line x1="588.0" y1="716.6" x2="603.0" y2="716.6" stroke="#000" stroke-width="1.8"/>
<line x1="588.0" y1="646.0" x2="603.0" y2="646.0" stroke="#000" stroke-width="1.8"/>
<polyline points="605.1,928.2 625.5,928.2 631.5,923.6 634.9,914.7 638.3,893.3 641.7,859.3 645.1,808.2 647.6,757.2 650.2,706.1 652.7,655.1 655.3,612.5 658.7,579.4 662.1,612.5 664.7,655.1 666.4,706.1 668.1,748.7 669.8,791.2 672.3,833.7 674.9,867.8 677.4,893.3 680.0,910.3 683.4,921.4 688.5,928.2 695.3,928.2 700.0,928.2 716.8,928.2 733.7,928.2 747.1,926.0 755.6,924.3 762.3,920.9 766.5,917.6 769.0,915.9 774.1,918.4 779.1,917.6 782.5,917.6 785.9,913.3 789.2,915.0 794.3,912.5 799.3,909.1 804.4,904.9 811.1,902.4 816.2,899.9 818.7,897.4 824.6,894.0 829.7,887.2 833.0,888.1 836.4,885.6 839.8,887.2 843.1,887.2 846.5,880.5 851.5,878.8 854.9,878.8 859.1,874.6 863.3,876.3 866.7,876.3 871.7,872.9 876.8,869.6 880.2,867.9 885.2,868.7 890.3,868.7 893.6,866.2 897.8,861.2 902.1,854.4 904.6,851.0 910.5,849.4 917.2,847.7 924.8,846.0" fill="none" stroke="#000000" stroke-width="3.6" stroke-linejoin="round"/>
<polyline points="605.1,928.2 625.5,928.2 631.5,923.6 634.9,914.7 638.3,893.3 641.7,859.3 645.1,808.2 647.6,757.2 650.2,706.1 652.7,665.3 655.3,648.3 658.7,622.7 662.1,648.3 664.7,665.3 666.4,706.1 668.1,748.7 669.8,791.2 672.3,833.7 674.9,867.8 677.4,893.3 680.0,910.3 683.4,921.4 688.5,928.2 695.3,928.2 700.0,928.2 716.8,928.2 725.3,928.2 733.7,928.2 742.1,923.5 750.5,919.2 758.9,915.9 767.4,910.0 775.8,906.6 784.2,903.2 792.6,900.7 801.0,897.4 809.4,894.0 817.9,892.3 826.3,894.0 834.7,893.1 843.1,889.8 851.5,893.1 860.0,889.8 868.4,888.1 876.8,884.7 881.0,884.7 885.2,878.8 892.0,874.6 897.0,872.1 902.1,863.7 905.4,860.3 910.5,860.3 917.2,858.6 924.8,854.4" fill="none" stroke="#ff0000" stroke-width="3.6" stroke-linejoin="round"/>
<polyline points="605.1,928.2 625.5,928.2 631.5,923.6 634.9,914.7 638.3,893.3 641.7,859.3 645.1,808.2 647.6,757.2 650.2,706.1 652.7,680.6 655.3,663.6 658.7,638.1 662.1,663.6 664.7,680.6 666.4,706.1 668.1,748.7 669.8,791.2 672.3,833.7 674.9,867.8 677.4,893.3 680.0,910.3 683.4,921.4 688.5,928.2 695.3,928.2 700.0,928.2 708.4,928.2 716.8,928.2 725.3,928.2 733.7,923.5 742.1,919.2 750.5,914.2 758.9,910.8 767.4,907.5 775.8,904.1 784.2,902.4 792.6,900.7 801.0,894.0 809.4,893.1 817.9,891.5 822.9,889.8 828.0,892.3 834.7,888.9 839.8,888.1 844.8,888.9 851.5,888.1 860.0,885.6 868.4,883.9 876.8,880.5 885.2,875.5 892.0,876.3 897.8,878.0 902.1,873.8 910.5,867.0 917.2,860.3 924.8,854.4" fill="none" stroke="#0000ff" stroke-width="3.6" stroke-linejoin="round"/>
<polyline points="605.1,928.2 617.0,928.2 625.5,928.2 630.6,923.6 634.0,919.2 636.6,901.8 639.1,884.8 641.7,859.3 644.2,825.2 646.8,791.2 649.3,748.7 651.9,706.1 654.4,685.7 657.0,672.1 658.7,667.8 661.3,675.5 663.8,689.1 665.5,714.6 667.2,748.7 669.8,791.2 671.5,825.2 674.0,859.3 675.7,884.8 678.3,906.9 681.7,921.4 686.8,925.8 693.6,928.2 700.0,928.2 708.4,928.2 716.8,926.0 725.3,924.3 733.7,920.9 742.1,917.6 750.5,913.3 758.9,909.1 764.0,905.8 769.0,902.4 774.1,900.7 779.1,899.9 784.2,899.0 789.2,897.4 794.3,899.0 801.0,897.4 807.8,896.5 814.5,895.7 819.5,894.0 826.3,891.5 833.0,893.1 838.1,892.3 844.8,894.0 851.5,888.9 860.0,887.2 868.4,886.4 875.1,883.9 881.8,878.8 886.9,874.6 893.6,874.6 898.7,872.9 903.7,867.9 910.5,864.5 917.2,864.5 924.8,864.5" fill="none" stroke="#00ffff" stroke-width="3.6" stroke-linejoin="round"/>
<text filter="url(#gs)" transform="translate(588.00,960.00) scale(1,1.08)" font-size="29.5" text-anchor="middle" font-weight="normal" font-style="normal" >0</text>
<text filter="url(#gs)" transform="translate(647.00,960.00) scale(1,1.08)" font-size="29.5" text-anchor="middle" font-weight="normal" font-style="normal" >30</text>
<text filter="url(#gs)" transform="translate(706.00,960.00) scale(1,1.08)" font-size="29.5" text-anchor="middle" font-weight="normal" font-style="normal" >60</text>
<text filter="url(#gs)" transform="translate(765.00,960.00) scale(1,1.08)" font-size="29.5" text-anchor="middle" font-weight="normal" font-style="normal" >90</text>
<text filter="url(#gs)" transform="translate(824.00,960.00) scale(1,1.08)" font-size="29.5" text-anchor="middle" font-weight="normal" font-style="normal" >120</text>
<text filter="url(#gs)" transform="translate(883.00,960.00) scale(1,1.08)" font-size="29.5" text-anchor="middle" font-weight="normal" font-style="normal" >150</text>
<text filter="url(#gs)" transform="translate(942.00,960.00) scale(1,1.08)" font-size="29.5" text-anchor="middle" font-weight="normal" font-style="normal" >180</text>
<text filter="url(#gs)" transform="translate(580.50,936.80) scale(1,1.08)" font-size="29.5" text-anchor="end" font-weight="normal" font-style="normal" >0</text>
<text filter="url(#gs)" transform="translate(580.50,866.22) scale(1,1.08)" font-size="29.5" text-anchor="end" font-weight="normal" font-style="normal" >1</text>
<text filter="url(#gs)" transform="translate(580.50,795.64) scale(1,1.08)" font-size="29.5" text-anchor="end" font-weight="normal" font-style="normal" >2</text>
<text filter="url(#gs)" transform="translate(580.50,725.06) scale(1,1.08)" font-size="29.5" text-anchor="end" font-weight="normal" font-style="normal" >3</text>
<text filter="url(#gs)" transform="translate(580.50,654.48) scale(1,1.08)" font-size="29.5" text-anchor="end" font-weight="normal" font-style="normal" >4</text>
<text filter="url(#gs)" transform="translate(580.50,583.90) scale(1,1.08)" font-size="29.5" text-anchor="end" font-weight="normal" font-style="normal" >5</text>
<text filter="url(#gs)" transform="translate(764.00,619.90) scale(1,1.1)" font-size="29.5" text-anchor="middle" font-weight="normal" font-style="normal" >O-O-Si</text>
<text filter="url(#gs)" transform="translate(704.0,1015.3) scale(1,1.06)" font-size="29" text-anchor="start">Angle (</text>
<circle cx="801.5" cy="996.2" r="1.95" fill="none" stroke="#000" stroke-width="1.2"/>
<text filter="url(#gs)" transform="translate(807.5,1015.3) scale(1,1.06)" font-size="29" text-anchor="start">)</text>
<text filter="url(#gs)" transform="translate(532.0,750.6) rotate(-90)" x="0" y="0" font-size="29" textLength="327" lengthAdjust="spacingAndGlyphs" text-anchor="middle">B(<tspan font-style="italic">&#952;</tspan>)/sin(<tspan font-style="italic">&#952;</tspan>) (arbitrary units)</text>
<rect x="1076.0" y="575.4" width="355.0" height="352.9" fill="none" stroke="#000" stroke-width="1.8"/>
<line x1="1135.2" y1="928.3" x2="1135.2" y2="913.3" stroke="#000" stroke-width="1.8"/>
<line x1="1194.3" y1="928.3" x2="1194.3" y2="913.3" stroke="#000" stroke-width="1.8"/>
<line x1="1253.5" y1="928.3" x2="1253.5" y2="913.3" stroke="#000" stroke-width="1.8"/>
<line x1="1312.7" y1="928.3" x2="1312.7" y2="913.3" stroke="#000" stroke-width="1.8"/>
<line x1="1371.8" y1="928.3" x2="1371.8" y2="913.3" stroke="#000" stroke-width="1.8"/>
<line x1="1076.0" y1="810.7" x2="1091.0" y2="810.7" stroke="#000" stroke-width="1.8"/>
<line x1="1076.0" y1="693.0" x2="1091.0" y2="693.0" stroke="#000" stroke-width="1.8"/>
<polyline points="1094.0,928.2 1132.5,928.2 1165.5,928.2 1169.6,928.2 1172.3,922.9 1175.1,903.6 1177.8,876.2 1180.6,834.9 1183.3,793.7 1186.1,738.7 1188.8,683.7 1190.8,653.5 1193.0,650.7 1195.7,659.0 1198.5,692.0 1201.2,738.7 1204.0,779.9 1206.7,821.2 1209.5,862.4 1212.2,884.4 1214.9,898.1 1219.1,903.6 1223.2,906.4 1228.7,907.8 1234.2,905.0 1239.7,902.3 1245.2,898.1 1250.7,896.8 1256.2,898.1 1261.7,892.6 1267.2,891.3 1272.7,889.9 1278.2,887.1 1283.7,881.6 1289.2,878.9 1294.7,876.2 1300.2,873.4 1305.7,876.2 1309.8,867.9 1313.9,865.2 1319.4,866.5 1324.9,862.4 1330.4,856.9 1335.9,856.9 1341.4,851.4 1346.9,843.2 1351.0,832.2 1353.8,829.4 1357.9,832.2 1360.7,826.7 1363.4,834.9 1368.9,825.3 1374.4,823.9 1379.9,825.3 1385.4,830.8 1389.5,826.7 1392.3,823.9 1396.4,829.4 1401.9,834.9 1407.4,836.3 1414.3,837.7" fill="none" stroke="#000000" stroke-width="3.6" stroke-linejoin="round"/>
<polyline points="1094.0,928.2 1132.5,928.2 1165.5,928.2 1169.6,925.6 1172.3,920.1 1175.1,898.1 1177.8,867.9 1180.6,834.9 1183.3,785.4 1186.1,738.7 1188.8,697.5 1191.6,678.2 1194.3,683.7 1197.1,708.5 1199.8,746.9 1202.6,779.9 1205.3,812.9 1208.1,840.4 1210.8,862.4 1213.6,878.9 1216.3,887.1 1220.4,889.9 1225.9,895.4 1231.4,892.6 1236.9,894.0 1242.4,892.6 1247.9,891.3 1253.4,889.9 1258.9,889.9 1264.4,887.1 1269.9,887.1 1275.4,884.4 1280.9,883.0 1286.4,881.6 1291.9,876.2 1297.4,870.7 1302.9,867.9 1308.4,862.4 1313.9,859.7 1319.4,856.9 1324.9,856.9 1330.4,855.5 1335.9,851.4 1341.4,843.2 1346.9,843.2 1352.4,840.4 1357.9,845.9 1363.4,840.4 1368.9,841.8 1374.4,840.4 1379.9,843.2 1385.4,850.0 1390.9,847.3 1396.4,848.7 1401.9,847.3 1407.4,851.4 1414.3,852.8" fill="none" stroke="#ff0000" stroke-width="3.6" stroke-linejoin="round"/>
<polyline points="1094.0,928.2 1132.5,928.2 1165.5,928.2 1169.6,925.6 1172.3,918.8 1175.1,896.8 1177.8,865.2 1180.6,832.2 1183.3,788.2 1186.1,741.4 1188.8,703.0 1191.6,681.0 1194.3,683.7 1197.1,708.5 1199.8,741.4 1202.6,777.2 1205.3,810.2 1208.1,837.7 1210.8,859.7 1213.6,876.2 1216.3,883.0 1220.4,887.1 1225.9,889.9 1231.4,889.9 1236.9,891.3 1242.4,892.6 1247.9,889.9 1253.4,888.5 1258.9,887.1 1264.4,884.4 1269.9,884.4 1275.4,881.6 1280.9,876.2 1286.4,873.4 1291.9,870.7 1297.4,865.2 1302.9,862.4 1308.4,861.0 1313.9,861.0 1319.4,859.7 1324.9,859.7 1330.4,855.5 1335.9,852.8 1341.4,851.4 1346.9,848.7 1352.4,845.9 1357.9,848.7 1363.4,843.2 1368.9,841.8 1374.4,845.9 1379.9,843.2 1385.4,845.9 1390.9,850.0 1396.4,854.2 1401.9,856.9 1407.4,855.5 1414.3,854.2" fill="none" stroke="#0000ff" stroke-width="3.6" stroke-linejoin="round"/>
<polyline points="1094.0,928.2 1132.5,928.2 1165.5,928.2 1168.2,922.9 1172.3,911.9 1175.1,889.9 1177.8,862.4 1180.6,834.9 1183.3,793.7 1186.1,752.4 1188.8,719.5 1191.6,700.2 1194.3,697.5 1197.1,714.0 1199.8,738.7 1202.6,774.4 1205.3,807.4 1208.1,834.9 1210.8,856.9 1213.6,876.2 1217.7,887.1 1223.2,891.3 1228.7,892.6 1234.2,894.0 1239.7,892.6 1242.4,895.4 1247.9,892.6 1253.4,889.9 1258.9,887.1 1264.4,885.8 1269.9,883.0 1275.4,878.9 1280.9,878.9 1286.4,867.9 1291.9,865.2 1296.0,862.4 1300.2,859.7 1302.9,856.9 1305.7,852.8 1309.8,856.9 1313.9,855.5 1319.4,858.3 1324.9,856.9 1329.0,854.2 1333.2,854.2 1338.7,851.4 1344.2,847.3 1348.3,854.2 1355.2,851.4 1360.7,852.8 1368.9,858.3 1373.0,854.2 1379.9,844.5 1385.4,845.9 1393.6,848.7 1401.9,850.0 1407.4,850.0 1414.3,851.4" fill="none" stroke="#00ffff" stroke-width="3.6" stroke-linejoin="round"/>
<text filter="url(#gs)" transform="translate(1076.00,960.00) scale(1,1.08)" font-size="29.5" text-anchor="middle" font-weight="normal" font-style="normal" >0</text>
<text filter="url(#gs)" transform="translate(1135.17,960.00) scale(1,1.08)" font-size="29.5" text-anchor="middle" font-weight="normal" font-style="normal" >30</text>
<text filter="url(#gs)" transform="translate(1194.33,960.00) scale(1,1.08)" font-size="29.5" text-anchor="middle" font-weight="normal" font-style="normal" >60</text>
<text filter="url(#gs)" transform="translate(1253.50,960.00) scale(1,1.08)" font-size="29.5" text-anchor="middle" font-weight="normal" font-style="normal" >90</text>
<text filter="url(#gs)" transform="translate(1312.67,960.00) scale(1,1.08)" font-size="29.5" text-anchor="middle" font-weight="normal" font-style="normal" >120</text>
<text filter="url(#gs)" transform="translate(1371.83,960.00) scale(1,1.08)" font-size="29.5" text-anchor="middle" font-weight="normal" font-style="normal" >150</text>
<text filter="url(#gs)" transform="translate(1431.00,960.00) scale(1,1.08)" font-size="29.5" text-anchor="middle" font-weight="normal" font-style="normal" >180</text>
<text filter="url(#gs)" transform="translate(1068.50,936.80) scale(1,1.08)" font-size="29.5" text-anchor="end" font-weight="normal" font-style="normal" >0</text>
<text filter="url(#gs)" transform="translate(1068.50,819.17) scale(1,1.08)" font-size="29.5" text-anchor="end" font-weight="normal" font-style="normal" >1</text>
<text filter="url(#gs)" transform="translate(1068.50,701.53) scale(1,1.08)" font-size="29.5" text-anchor="end" font-weight="normal" font-style="normal" >2</text>
<text filter="url(#gs)" transform="translate(1068.50,583.90) scale(1,1.08)" font-size="29.5" text-anchor="end" font-weight="normal" font-style="normal" >3</text>
<text filter="url(#gs)" transform="translate(1252.50,619.90) scale(1,1.1)" font-size="29.5" text-anchor="middle" font-weight="normal" font-style="normal" >O-O-O</text>
<text filter="url(#gs)" transform="translate(1192.0,1015.3) scale(1,1.06)" font-size="29" text-anchor="start">Angle (</text>
<circle cx="1289.5" cy="996.2" r="1.95" fill="none" stroke="#000" stroke-width="1.2"/>
<text filter="url(#gs)" transform="translate(1295.5,1015.3) scale(1,1.06)" font-size="29" text-anchor="start">)</text>
<text filter="url(#gs)" transform="translate(1022.0,750.6) rotate(-90)" x="0" y="0" font-size="29" textLength="327" lengthAdjust="spacingAndGlyphs" text-anchor="middle">B(<tspan font-style="italic">&#952;</tspan>)/sin(<tspan font-style="italic">&#952;</tspan>) (arbitrary units)</text>
<polyline points="125.7,1964.7 127.9,1961.0 130.3,1956.4 132.1,1945.8 134.8,1928.4 137.4,1930.0 140.0,1932.2 141.9,1918.6 144.5,1905.8 146.9,1929.2 149.9,1952.6 152.2,1942.8 154.5,1933.7 157.0,1936.8 159.6,1939.8 162.0,1936.8 165.1,1930.7 168.1,1925.4 170.7,1930.7 173.2,1933.7 175.6,1923.2 177.8,1911.8 180.2,1926.2 182.4,1939.8 184.7,1918.6 186.8,1893.7 189.2,1893.7 191.8,1894.4 194.4,1886.1 196.8,1877.0 199.1,1889.9 201.6,1902.7 203.9,1891.4 206.2,1881.6 208.4,1885.4 210.7,1892.2 213.0,1886.9 215.6,1879.3 218.0,1903.5 220.5,1933.0 222.8,1915.6 225.4,1897.5 227.7,1908.0 230.1,1917.1 232.3,1897.5 234.2,1880.8 236.4,1877.8 239.0,1874.8 241.0,1882.3 243.7,1892.2 246.2,1888.4 248.8,1883.1 251.2,1883.1 253.8,1884.6 256.1,1880.8 258.3,1877.8 260.9,1880.8 263.3,1884.6 265.6,1892.2 267.9,1898.2 270.4,1893.7 273.0,1889.1 275.4,1894.4 277.5,1901.2 279.8,1889.9 282.1,1878.6 284.5,1890.7 287.1,1902.7 289.3,1892.2 291.6,1883.8 294.6,1883.8 297.7,1885.4 299.9,1889.9 301.9,1894.4 304.2,1906.5 306.0,1916.4 308.2,1905.0 310.5,1893.7 312.8,1895.2 315.3,1898.2 317.8,1894.4 320.3,1891.4 322.6,1898.2 324.9,1905.0 327.1,1905.8 329.4,1908.0 331.7,1917.1 334.4,1927.7 336.5,1911.1 339.1,1891.4 341.3,1915.6 343.9,1940.5 346.3,1929.2 348.9,1917.1 351.2,1909.5 353.4,1903.5 355.7,1920.1 358.0,1935.3 360.2,1927.7 362.5,1918.6 364.8,1908.0 367.5,1897.5 369.6,1918.6 372.0,1941.3 374.6,1936.8 377.2,1933.7 379.4,1938.3 381.9,1943.6 384.1,1933.7 386.2,1923.9 388.7,1929.2 390.9,1936.8 393.2,1948.9 395.8,1962.5 398.0,1939.8 400.3,1914.8 402.6,1917.1 405.3,1920.1 407.4,1924.7 409.8,1929.2 412.4,1921.6 415.1,1914.1 417.4,1923.2 419.5,1930.7 422.2,1928.4 424.5,1925.4 426.8,1920.9 428.6,1916.4 431.0,1927.7 433.6,1939.0 435.8,1930.7 438.6,1922.4 440.8,1933.7 443.1,1945.1 445.2,1933.7 447.9,1924.7 450.2,1929.2 452.5,1934.5 454.7,1929.2 457.0,1923.9 459.6,1916.4 462.3,1910.3 464.6,1917.1 466.8,1922.4 469.1,1915.6 471.4,1909.5 473.6,1910.3 476.4,1911.1 478.9,1908.8 481.5,1906.5 484.2,1906.5 488.0,1906.5 491.8,1907.3 495.1,1908.8 497.5,1907.3 500.1,1905.0 502.4,1892.9 504.6,1881.6 506.9,1891.4 509.2,1899.7 511.4,1902.0 513.7,1902.7 516.0,1900.5 518.7,1898.2 521.3,1897.5 523.5,1895.9 525.8,1889.9 528.4,1883.8 530.8,1875.5 533.1,1868.0 535.3,1882.3 537.9,1898.2" fill="none" stroke="#000000" stroke-width="2.7" stroke-linejoin="round"/>
<polyline points="125.7,1753.6 128.3,1748.3 130.6,1742.2 132.9,1733.2 135.1,1724.8 137.4,1729.4 139.7,1734.7 142.4,1733.2 144.5,1733.2 146.9,1745.3 149.5,1758.9 151.8,1745.3 154.0,1732.4 156.3,1732.4 159.0,1732.4 161.1,1740.7 163.8,1749.8 166.1,1749.8 168.4,1748.3 171.4,1744.5 174.4,1742.2 178.2,1740.7 180.2,1733.2 182.0,1724.8 184.3,1728.6 187.3,1733.2 189.2,1724.1 191.4,1715.0 194.1,1711.2 196.8,1709.0 199.4,1710.5 202.4,1713.5 204.7,1718.0 206.9,1724.1 209.2,1730.1 210.7,1734.7 213.0,1722.6 215.3,1710.5 218.0,1709.0 220.5,1707.5 223.6,1707.5 226.6,1706.7 228.9,1704.4 231.6,1702.2 234.6,1700.7 236.7,1713.5 239.4,1725.6 241.7,1727.1 244.0,1728.6 246.2,1710.5 249.3,1693.8 251.5,1707.5 253.8,1718.0 256.1,1714.3 258.8,1709.7 261.4,1705.9 263.6,1704.4 265.9,1705.2 268.2,1706.7 270.4,1702.2 273.0,1696.9 275.4,1701.4 278.0,1705.2 280.3,1706.7 282.5,1706.7 284.8,1693.8 287.1,1682.5 289.3,1691.6 291.6,1701.4 293.9,1712.0 296.1,1722.6 298.4,1712.0 301.1,1700.7 303.4,1699.1 306.0,1697.6 308.2,1708.2 310.8,1718.0 313.5,1718.0 316.6,1716.5 320.3,1714.3 322.6,1705.9 325.2,1698.4 327.9,1699.9 330.5,1702.2 332.4,1715.0 334.7,1727.9 337.0,1724.1 340.0,1724.1 342.1,1736.2 343.9,1745.3 346.3,1740.7 348.4,1735.4 350.9,1712.0 353.4,1690.1 355.7,1707.5 358.0,1725.6 360.2,1719.5 362.8,1715.8 365.5,1718.8 367.8,1721.8 370.1,1736.2 372.3,1749.0 374.6,1740.7 376.9,1732.4 379.9,1731.6 382.6,1730.1 386.2,1727.1 388.7,1736.9 390.9,1746.0 393.2,1737.7 395.3,1729.4 397.7,1736.2 400.3,1742.2 402.6,1746.8 405.1,1749.8 407.9,1741.5 410.1,1734.7 412.9,1728.6 415.4,1723.3 417.7,1724.8 420.3,1727.9 422.5,1737.7 424.5,1746.0 426.8,1748.3 429.0,1749.8 431.3,1745.3 433.6,1740.7 435.8,1741.5 438.6,1742.2 440.8,1722.6 443.1,1705.9 445.4,1726.4 447.9,1746.8 450.2,1737.7 452.5,1727.1 454.7,1721.1 457.0,1715.0 459.3,1734.7 462.3,1754.3 464.6,1740.7 466.8,1724.8 469.1,1724.1 471.7,1724.1 473.9,1715.0 476.4,1705.2 478.9,1706.7 481.5,1709.0 483.9,1712.7 486.5,1717.3 488.5,1721.8 490.6,1727.1 493.3,1727.1 495.6,1726.4 497.8,1710.5 500.1,1693.8 502.4,1699.9 504.6,1705.9 507.2,1712.7 509.6,1718.0 512.2,1718.8 514.2,1717.3 516.7,1710.5 519.0,1704.4 521.3,1698.4 523.5,1693.1 526.3,1694.6 528.8,1697.6 531.1,1709.7 533.4,1720.3 535.6,1710.5 537.9,1701.4" fill="none" stroke="#ff0000" stroke-width="2.7" stroke-linejoin="round"/>
<polyline points="125.7,1546.4 128.3,1566.8 130.6,1584.2 132.9,1572.8 135.1,1560.7 137.8,1557.7 140.4,1556.9 142.7,1566.8 144.6,1572.1 146.9,1569.0 149.5,1565.3 152.1,1571.3 154.5,1575.8 156.7,1560.7 159.0,1544.8 161.6,1556.2 163.8,1562.5 166.1,1559.2 168.4,1555.4 170.7,1554.7 173.2,1553.2 175.2,1533.5 177.8,1510.8 180.2,1513.8 182.7,1519.1 185.0,1523.7 187.7,1526.7 189.5,1522.9 191.8,1519.1 194.1,1533.5 197.1,1547.1 199.4,1538.0 201.6,1527.5 203.9,1545.6 206.2,1570.5 208.4,1553.2 210.7,1533.5 213.0,1525.9 215.3,1512.3 217.5,1510.8 220.5,1510.8 222.8,1516.9 225.4,1522.2 227.7,1512.3 230.1,1501.8 232.6,1509.3 234.9,1517.6 237.2,1507.8 239.4,1493.4 241.7,1498.7 244.0,1503.3 246.2,1516.9 248.8,1532.7 251.2,1515.4 253.4,1499.5 256.1,1501.8 258.8,1504.8 261.4,1504.8 264.4,1503.3 267.4,1501.8 270.4,1501.4 273.5,1502.5 275.7,1512.3 278.0,1519.9 280.3,1513.8 282.5,1510.1 284.8,1510.1 287.1,1510.8 289.3,1498.7 291.6,1488.9 293.9,1504.8 295.8,1519.9 298.4,1524.4 301.1,1528.2 303.4,1513.8 305.7,1498.7 307.8,1510.1 310.1,1521.4 312.8,1526.7 315.0,1531.2 317.3,1534.3 320.3,1535.8 322.6,1529.0 324.9,1523.7 327.1,1535.0 329.4,1544.8 331.7,1546.4 334.4,1547.1 337.0,1542.6 340.0,1537.3 343.6,1531.2 345.9,1542.6 348.1,1556.2 350.4,1541.1 353.0,1527.5 355.4,1533.5 357.7,1541.1 360.2,1529.0 362.5,1518.4 365.1,1529.0 367.8,1539.5 370.1,1550.1 372.3,1560.0 374.6,1547.1 377.2,1536.5 379.6,1545.6 382.2,1554.7 384.4,1559.2 386.4,1560.7 389.0,1556.2 391.2,1552.4 393.5,1559.2 395.9,1563.7 398.0,1554.7 400.3,1547.9 403.3,1547.4 405.3,1548.6 407.1,1559.2 409.8,1575.8 412.4,1568.3 415.4,1560.7 417.7,1541.1 419.5,1525.2 421.9,1538.0 424.0,1548.6 426.5,1544.1 429.0,1538.8 431.3,1547.1 433.6,1553.2 435.8,1541.1 438.6,1531.2 440.8,1542.6 443.1,1554.7 445.4,1548.6 447.9,1541.8 450.2,1547.1 452.8,1552.4 455.2,1545.6 457.8,1538.8 460.0,1537.3 462.7,1537.3 464.9,1541.1 466.8,1544.8 469.1,1522.9 471.7,1498.7 473.9,1510.8 476.4,1522.9 478.9,1519.9 481.2,1518.4 483.5,1530.5 485.7,1543.3 488.5,1533.5 491.0,1526.7 494.0,1527.5 497.1,1529.7 500.1,1534.3 502.4,1530.5 505.4,1522.9 507.7,1510.8 509.9,1501.8 512.2,1507.8 514.5,1513.8 516.7,1530.5 519.0,1544.8 521.3,1536.5 523.5,1527.5 526.6,1513.8 529.6,1505.5 532.6,1498.7 535.3,1504.8 537.9,1513.1" fill="none" stroke="#0000ff" stroke-width="2.7" stroke-linejoin="round"/>
<polyline points="126.0,1376.9 129.8,1370.9 132.1,1368.9 135.9,1368.6 139.4,1352.0 141.9,1352.7 144.2,1356.5 146.9,1350.5 149.5,1347.2 152.5,1356.5 155.5,1368.6 159.0,1385.3 161.6,1368.6 163.8,1356.5 166.1,1362.6 168.4,1368.6 172.6,1372.4 175.2,1365.6 177.9,1359.5 180.2,1365.6 182.3,1371.6 185.0,1347.5 187.3,1322.5 189.5,1339.9 191.8,1355.0 194.8,1362.6 197.1,1368.6 199.4,1361.1 201.6,1353.5 204.7,1347.5 206.9,1342.9 209.2,1335.4 210.7,1329.3 213.7,1326.3 216.0,1325.5 218.3,1333.8 220.5,1339.1 222.8,1320.2 225.4,1305.1 227.7,1327.8 230.1,1345.2 232.6,1330.8 234.9,1321.8 237.2,1323.3 239.4,1327.0 241.7,1333.8 244.0,1339.9 246.7,1336.1 248.8,1332.3 251.2,1333.1 253.8,1333.1 256.1,1320.2 258.3,1308.9 260.6,1324.8 262.9,1341.4 265.1,1339.9 267.4,1337.6 270.4,1337.6 273.5,1337.6 276.5,1336.9 279.5,1334.6 281.8,1331.6 284.0,1333.1 286.3,1334.6 289.3,1324.0 292.1,1315.7 293.9,1319.5 296.6,1324.8 298.9,1341.4 301.1,1359.5 303.4,1342.9 305.2,1326.3 307.5,1324.8 309.7,1324.0 312.0,1329.3 315.0,1336.9 317.3,1329.3 319.9,1320.2 322.6,1329.3 324.9,1336.1 327.1,1329.3 329.4,1318.7 330.0,1318.7 333.8,1342.9 336.8,1333.8 339.1,1330.1 342.1,1331.6 344.4,1333.8 346.3,1347.5 348.4,1361.1 351.2,1353.5 354.2,1344.4 357.7,1325.5 360.2,1336.9 362.5,1346.7 365.5,1339.9 368.6,1333.8 372.0,1321.0 374.6,1333.8 376.9,1344.4 379.1,1352.0 381.4,1358.0 385.2,1360.3 388.2,1362.6 390.5,1364.1 392.7,1359.5 395.8,1355.0 398.0,1362.6 400.3,1367.9 402.6,1361.1 404.8,1355.8 407.1,1367.1 409.8,1380.7 412.4,1365.6 415.0,1353.5 417.4,1364.1 419.5,1374.7 421.8,1362.6 424.2,1351.2 426.8,1358.0 429.8,1364.1 433.6,1369.4 435.8,1358.0 438.1,1344.4 440.4,1339.1 443.1,1334.6 445.7,1343.7 447.9,1350.5 450.2,1349.7 452.5,1349.0 454.7,1357.3 457.3,1365.6 459.7,1352.0 462.0,1339.9 464.6,1347.5 466.8,1354.3 469.1,1349.0 471.4,1342.2 475.9,1336.9 478.2,1355.0 480.9,1375.4 483.5,1358.0 485.7,1342.9 488.0,1328.6 490.3,1318.7 492.5,1319.5 495.6,1322.5 497.8,1317.2 500.1,1313.4 502.1,1324.8 504.6,1336.9 506.9,1333.1 509.6,1328.6 511.4,1330.8 514.2,1335.4 516.7,1322.5 519.0,1313.4 521.3,1324.8 523.5,1333.8 526.3,1330.1 528.8,1327.0 531.1,1327.8 534.1,1330.1 537.4,1339.9" fill="none" stroke="#00ffff" stroke-width="2.7" stroke-linejoin="round"/>
<polyline points="553.7,1936.0 555.9,1939.8 558.3,1944.3 560.4,1936.8 562.8,1925.4 565.4,1920.9 568.0,1918.6 570.4,1926.2 572.6,1933.0 575.2,1919.4 577.5,1905.8 579.8,1920.1 582.0,1935.3 585.0,1936.0 587.3,1936.0 589.6,1918.6 591.8,1902.0 594.1,1918.6 596.4,1936.8 599.4,1932.2 602.1,1926.9 604.2,1920.1 606.2,1914.1 608.5,1910.3 610.7,1907.3 613.3,1905.8 615.7,1903.5 617.9,1899.7 619.8,1896.7 622.4,1906.5 625.1,1915.6 627.4,1894.4 629.3,1872.5 631.6,1891.4 634.2,1911.1 636.4,1896.7 638.7,1883.1 641.0,1894.4 643.6,1906.5 645.5,1915.6 647.8,1923.2 650.1,1930.7 652.8,1938.3 655.0,1915.6 658.4,1890.7 660.6,1899.0 662.9,1905.0 665.2,1909.5 667.4,1914.1 669.7,1908.0 672.0,1902.0 674.7,1892.9 677.3,1883.8 679.2,1876.3 681.1,1868.7 683.3,1891.4 686.3,1918.6 688.6,1900.5 690.9,1878.6 693.1,1892.9 695.4,1908.0 697.7,1915.6 700.7,1923.9 703.0,1900.5 705.2,1874.8 707.5,1882.3 710.1,1892.2 712.3,1879.3 714.3,1868.7 716.6,1892.9 719.6,1920.1 721.9,1917.1 724.1,1912.6 726.4,1889.9 728.7,1870.2 730.9,1895.9 733.2,1922.4 735.8,1903.5 738.2,1884.6 740.8,1889.9 743.5,1895.2 745.8,1877.8 747.9,1858.9 750.3,1886.9 752.4,1917.9 754.8,1917.1 757.4,1915.6 759.7,1899.0 761.9,1881.6 766.6,1944.3 768.9,1926.2 771.3,1908.8 773.9,1909.5 776.4,1911.1 778.9,1914.1 780.7,1915.6 782.9,1913.3 785.2,1910.3 787.8,1920.1 790.2,1930.0 792.5,1919.4 795.0,1908.8 797.3,1921.6 799.6,1933.7 802.1,1938.3 804.9,1941.3 807.1,1937.5 809.4,1934.5 811.7,1940.5 813.9,1946.6 816.2,1929.2 818.2,1910.3 820.7,1909.5 823.3,1909.5 825.7,1915.6 828.3,1921.6 830.6,1932.2 833.1,1942.8 835.4,1939.8 838.1,1932.2 840.4,1912.6 842.7,1892.2 844.9,1909.5 847.2,1927.7 849.5,1924.7 852.0,1921.6 854.5,1936.8 857.0,1951.1 859.3,1945.8 861.3,1939.8 863.8,1938.3 866.9,1936.8 869.6,1939.0 871.7,1939.8 874.1,1933.7 875.9,1930.7 879.0,1928.4 881.7,1926.9 884.7,1926.2 888.0,1923.9 890.3,1921.6 892.3,1903.5 894.5,1883.1 897.1,1897.5 899.4,1910.3 901.6,1921.6 903.9,1933.0 906.5,1914.1 908.9,1896.7 911.2,1886.9 913.4,1877.8 915.7,1886.9 918.0,1895.2 920.5,1889.9 923.1,1885.4 925.8,1886.1 928.5,1888.4 930.4,1893.7 932.6,1902.0 934.9,1905.0 937.2,1907.3 939.4,1899.7 941.7,1892.2 944.0,1910.3 946.7,1928.4 949.3,1920.1 951.2,1913.3 953.8,1911.8 956.1,1909.5 958.3,1905.0 961.4,1899.7 963.3,1873.3 965.4,1846.8" fill="none" stroke="#000000" stroke-width="2.7" stroke-linejoin="round"/>
<polyline points="553.7,1724.1 555.9,1719.5 558.3,1715.8 560.4,1727.1 563.1,1740.0 565.4,1734.7 567.7,1728.6 569.9,1730.9 572.5,1740.7 574.9,1752.8 577.5,1764.2 580.1,1746.8 582.5,1729.4 585.0,1732.4 587.3,1735.4 589.6,1748.3 591.8,1761.9 594.1,1739.2 596.1,1715.0 598.7,1740.7 601.2,1767.2 603.6,1758.9 606.2,1748.3 608.2,1730.1 610.0,1710.5 612.7,1707.5 615.3,1705.2 617.5,1713.5 620.3,1722.6 622.8,1728.6 625.1,1732.4 627.4,1730.1 629.9,1728.6 632.7,1730.1 634.9,1729.4 636.9,1713.5 638.7,1699.1 641.0,1710.5 643.6,1722.6 646.0,1719.5 648.5,1715.8 650.8,1715.8 653.8,1715.8 656.1,1725.6 658.1,1734.7 660.2,1716.5 662.6,1699.1 664.7,1705.2 667.4,1711.2 669.7,1712.0 672.0,1712.0 674.2,1689.3 676.8,1666.6 679.2,1677.2 681.8,1687.8 684.1,1693.1 686.3,1696.9 689.4,1698.4 691.6,1699.9 693.9,1702.9 696.2,1703.7 698.4,1696.9 700.7,1690.8 703.0,1694.6 705.2,1697.6 707.5,1693.8 710.1,1691.6 712.0,1709.0 714.3,1731.6 716.6,1719.5 718.8,1704.4 721.6,1698.4 723.8,1693.1 726.4,1705.9 728.7,1717.3 730.9,1719.5 733.7,1721.1 735.8,1704.4 738.2,1687.0 740.8,1696.9 743.3,1706.7 746.1,1709.0 748.8,1709.7 750.6,1705.9 752.4,1700.7 754.8,1715.0 757.1,1728.6 759.4,1733.2 761.8,1737.7 764.4,1744.5 766.8,1751.3 769.3,1747.5 771.9,1742.2 774.3,1734.7 776.4,1727.1 778.9,1713.5 781.1,1702.2 783.7,1709.0 786.0,1715.0 787.9,1726.4 790.1,1738.4 792.8,1738.4 795.8,1738.4 798.8,1740.0 801.1,1735.4 803.1,1730.1 805.6,1730.1 807.9,1735.4 810.2,1740.7 812.1,1751.3 814.2,1761.9 816.7,1751.3 818.9,1739.2 821.2,1727.1 823.0,1715.8 825.7,1730.1 828.3,1743.0 830.6,1727.1 832.8,1713.5 835.1,1722.6 837.4,1732.4 839.6,1737.7 842.7,1741.5 845.4,1741.5 848.0,1742.2 850.2,1748.3 852.5,1752.8 854.8,1746.8 856.7,1741.5 859.0,1749.8 861.6,1759.6 863.8,1748.3 866.1,1737.7 868.4,1746.8 871.1,1755.1 873.7,1749.8 875.9,1744.5 878.2,1739.2 880.5,1735.4 882.7,1739.2 885.3,1744.5 887.7,1731.6 889.8,1721.1 892.6,1716.5 894.8,1713.5 897.1,1707.5 899.4,1702.2 901.6,1710.5 903.9,1719.5 906.2,1721.1 908.9,1723.3 911.0,1737.7 913.4,1753.6 915.7,1730.1 918.0,1708.2 920.5,1716.5 923.3,1727.1 925.5,1696.9 928.1,1668.1 930.4,1680.2 932.6,1690.8 934.9,1707.5 937.2,1724.1 939.4,1718.0 941.7,1712.7 944.0,1724.8 946.2,1736.2 948.8,1738.4 951.2,1741.5 953.8,1710.5 956.1,1679.5 958.8,1680.2 961.8,1681.0 963.6,1693.1 965.9,1705.2" fill="none" stroke="#ff0000" stroke-width="2.7" stroke-linejoin="round"/>
<polyline points="553.7,1548.6 555.9,1544.1 558.3,1536.5 560.9,1535.8 563.1,1536.5 565.4,1560.7 568.0,1584.2 570.4,1545.6 572.6,1512.3 575.2,1538.0 577.8,1560.7 580.1,1548.6 582.5,1539.5 585.0,1542.6 587.3,1544.1 590.0,1544.1 592.1,1545.6 594.1,1556.2 596.4,1567.5 599.1,1556.2 601.7,1545.6 603.9,1530.5 606.2,1515.4 608.2,1500.2 610.3,1488.9 612.7,1501.8 615.0,1514.6 617.5,1513.8 619.8,1512.3 622.4,1545.6 625.1,1578.1 627.4,1545.6 629.6,1513.8 631.9,1507.8 634.2,1500.2 636.4,1515.4 638.7,1535.0 641.4,1547.1 643.7,1558.4 646.0,1548.6 648.1,1538.8 650.8,1539.5 653.1,1541.1 655.7,1532.0 657.6,1525.9 659.9,1530.5 662.9,1539.5 665.2,1515.4 667.4,1493.4 669.7,1506.3 672.0,1519.1 674.7,1524.4 677.3,1529.7 679.5,1529.7 681.8,1529.7 684.1,1518.4 686.3,1508.6 688.9,1509.3 691.6,1512.3 693.9,1517.6 696.2,1522.2 698.9,1522.2 701.5,1520.7 703.7,1503.3 705.2,1490.4 707.5,1500.2 709.8,1509.3 712.0,1516.9 714.3,1522.2 717.0,1515.4 719.6,1509.3 721.9,1516.9 723.8,1525.9 726.4,1531.2 728.7,1535.8 730.9,1522.9 733.7,1512.3 735.9,1519.9 738.2,1525.9 740.8,1520.7 743.0,1516.1 746.1,1521.4 748.8,1524.4 751.4,1522.9 754.4,1521.4 757.0,1513.8 759.2,1527.5 761.5,1547.1 766.3,1547.1 768.6,1542.6 771.3,1538.8 774.3,1536.5 776.9,1535.0 780.4,1529.7 783.4,1529.7 786.0,1529.0 788.2,1524.4 790.5,1522.9 792.8,1545.6 795.3,1569.0 797.6,1550.1 799.6,1532.0 802.1,1544.1 804.9,1555.4 807.1,1547.1 809.4,1539.5 811.7,1545.6 814.2,1548.6 816.7,1541.8 818.8,1535.0 821.5,1538.0 824.5,1541.1 828.3,1544.8 830.6,1557.7 833.1,1570.5 835.4,1563.7 837.8,1554.7 840.4,1550.1 842.7,1545.6 844.9,1548.6 847.5,1552.4 849.5,1544.8 852.0,1536.5 854.5,1547.1 856.6,1555.4 859.0,1542.6 861.6,1532.0 863.8,1542.6 866.4,1552.4 868.4,1536.5 870.9,1519.1 873.4,1541.8 875.9,1564.5 878.2,1541.8 880.5,1519.1 882.7,1522.9 885.8,1526.7 888.3,1542.6 891.1,1553.2 894.4,1562.2 896.8,1539.5 899.4,1512.3 901.6,1518.4 903.9,1529.0 906.2,1547.1 908.9,1569.0 911.2,1538.0 913.4,1509.3 916.0,1527.5 918.0,1545.6 920.5,1548.6 923.3,1550.1 925.5,1536.5 928.1,1525.2 931.1,1527.5 934.1,1531.2 937.2,1535.0 939.4,1529.7 941.7,1524.4 944.3,1530.5 947.0,1535.8 949.3,1531.2 951.5,1528.2 954.6,1528.2 956.5,1526.7 958.8,1513.8 961.4,1501.8 963.6,1506.3 965.9,1510.1" fill="none" stroke="#0000ff" stroke-width="2.7" stroke-linejoin="round"/>
<polyline points="553.7,1314.9 555.6,1332.3 557.4,1353.5 558.9,1373.9 560.9,1362.6 563.1,1350.5 565.4,1361.1 568.0,1376.2 570.7,1373.2 573.4,1368.6 576.0,1356.5 577.5,1347.5 580.1,1343.7 582.5,1341.4 584.6,1352.0 586.6,1362.6 588.8,1360.3 591.8,1358.8 593.7,1374.7 596.4,1394.3 598.7,1388.3 600.9,1382.2 603.6,1379.2 606.2,1376.2 608.2,1359.5 610.0,1342.9 612.3,1349.7 615.3,1357.3 617.5,1352.0 620.3,1345.9 622.8,1336.9 625.1,1330.1 628.1,1330.1 630.4,1342.9 632.7,1356.5 634.5,1358.0 636.4,1345.9 638.7,1331.6 641.0,1327.0 643.6,1321.8 646.3,1327.0 648.5,1329.3 650.8,1324.0 653.1,1318.7 655.3,1327.8 658.1,1334.6 659.9,1320.2 662.2,1301.3 664.4,1302.1 667.4,1308.1 669.7,1324.8 672.0,1352.7 674.2,1329.3 676.8,1292.3 679.2,1308.1 681.4,1320.2 683.8,1330.8 686.0,1338.4 688.6,1314.2 690.9,1288.5 693.1,1312.7 695.4,1328.6 697.7,1332.3 700.7,1334.6 703.0,1323.3 705.2,1311.9 707.5,1326.3 710.1,1338.4 712.5,1327.8 714.3,1321.8 717.0,1317.2 719.6,1314.2 721.9,1316.5 724.6,1319.5 726.7,1329.3 728.7,1337.6 730.9,1339.9 733.2,1342.2 735.5,1337.6 737.7,1333.8 740.0,1342.9 743.0,1353.5 745.3,1344.4 747.9,1336.9 750.3,1350.5 752.4,1363.3 754.8,1356.5 757.1,1350.5 759.4,1338.4 761.9,1318.0 764.0,1330.8 766.3,1340.7 769.3,1343.7 772.4,1346.7 775.8,1350.5 778.4,1347.5 780.7,1345.9 782.9,1368.6 785.5,1393.6 787.9,1374.7 790.1,1361.8 792.8,1363.3 795.0,1365.6 797.3,1360.3 799.6,1356.5 802.6,1361.8 805.2,1364.1 807.1,1344.4 809.1,1325.5 811.7,1352.0 814.2,1377.7 816.7,1356.5 818.9,1336.9 821.2,1341.4 823.8,1347.5 826.0,1361.1 828.3,1374.7 830.6,1356.5 833.1,1338.4 835.4,1347.5 837.8,1356.5 840.4,1364.8 843.0,1372.4 845.7,1371.6 848.7,1368.6 851.7,1364.1 854.3,1358.8 856.6,1353.5 859.0,1365.6 861.6,1377.7 863.8,1365.6 866.1,1355.0 868.4,1364.1 871.1,1373.2 873.7,1349.0 876.2,1325.5 879.0,1331.6 881.2,1336.1 883.2,1355.0 885.5,1373.2 887.7,1368.6 890.3,1364.8 892.6,1371.6 894.8,1376.2 897.1,1364.1 899.4,1350.5 901.6,1335.4 903.9,1321.0 906.5,1342.9 909.2,1364.1 911.5,1349.0 913.7,1335.4 916.0,1329.3 918.3,1324.0 921.0,1329.3 923.6,1335.4 925.8,1342.9 928.1,1349.7 930.4,1338.4 932.6,1328.6 934.9,1330.1 937.9,1333.1 941.7,1335.4 944.3,1323.3 947.0,1312.7 949.3,1317.2 951.8,1322.5 954.1,1335.4 956.4,1345.9 958.8,1336.9 961.4,1330.1 963.6,1334.6 965.9,1338.4" fill="none" stroke="#00ffff" stroke-width="2.7" stroke-linejoin="round"/>
<polyline points="980.7,1968.6 984.4,1970.1 987.1,1964.8 989.4,1961.8 992.8,1961.0 995.4,1962.5 998.4,1966.3 1001.5,1965.6 1004.5,1964.8 1008.0,1966.3 1010.5,1960.3 1012.8,1953.5 1015.5,1961.0 1018.1,1964.8 1020.4,1962.5 1023.4,1960.3 1027.2,1961.0 1029.7,1964.1 1032.2,1967.8 1034.7,1964.8 1037.0,1963.3 1040.0,1963.3 1043.0,1962.5 1046.1,1961.8 1048.8,1963.3 1051.4,1964.5 1053.6,1961.0 1055.9,1958.5 1059.7,1957.3 1063.4,1955.7 1066.5,1954.2 1069.5,1953.5 1071.8,1957.3 1074.0,1962.5 1077.8,1962.5 1080.1,1961.8 1083.1,1958.0 1086.1,1954.2 1088.7,1950.5 1091.4,1951.2 1093.7,1952.7 1096.0,1950.5 1099.0,1948.5 1101.2,1948.9 1103.2,1948.2 1105.0,1940.6 1106.8,1931.6 1109.6,1930.0 1112.6,1929.3 1114.9,1921.0 1117.1,1904.3 1119.4,1886.2 1121.4,1869.6 1123.5,1851.4 1125.4,1831.8 1127.0,1815.1 1129.2,1804.5 1131.5,1792.5 1133.8,1774.3 1135.6,1760.7 1137.1,1755.4 1139.5,1759.9 1142.1,1766.8 1144.0,1780.4 1145.8,1792.5 1148.1,1799.3 1150.4,1807.6 1151.9,1819.7 1153.4,1833.3 1155.2,1851.4 1157.9,1865.0 1160.2,1875.6 1162.5,1886.2 1164.7,1897.5 1167.0,1901.3 1170.0,1905.8 1171.6,1913.4 1173.8,1927.8 1176.1,1926.3 1178.4,1923.7 1181.4,1927.0 1184.4,1928.5 1188.8,1927.3 1192.6,1925.2 1196.3,1923.2 1199.4,1922.5 1202.4,1922.8 1205.0,1930.0 1207.4,1934.9 1210.7,1933.1 1214.5,1931.6 1218.0,1930.0 1221.3,1927.3 1223.6,1924.0 1225.8,1921.0 1228.1,1925.5 1230.7,1930.0 1233.1,1923.2 1235.7,1917.2 1238.2,1918.7 1240.9,1919.5 1244.0,1917.2 1247.0,1915.2 1250.3,1913.4 1254.2,1911.6 1256.8,1912.7 1259.1,1914.6 1261.4,1911.1 1263.6,1908.1 1266.3,1909.6 1269.4,1912.2 1271.5,1907.4 1273.9,1903.6 1276.5,1904.3 1279.0,1905.8 1281.0,1899.8 1283.3,1892.2 1285.5,1886.2 1287.8,1882.4 1290.1,1888.5 1292.3,1893.0 1294.6,1887.0 1296.9,1881.4 1299.6,1885.4 1302.2,1891.5 1304.4,1883.9 1306.7,1875.3 1309.0,1878.6 1311.7,1882.0 1313.8,1879.8 1316.5,1876.8 1320.3,1875.6 1322.9,1873.8 1325.6,1871.4 1327.9,1880.1 1330.4,1888.5 1333.2,1885.9 1335.9,1882.9 1338.9,1878.6 1342.2,1877.9 1345.6,1877.9 1349.0,1876.8 1352.1,1877.4 1355.1,1879.8 1357.4,1882.0 1360.1,1884.7 1363.1,1889.2 1365.7,1885.4 1367.9,1882.4 1370.7,1889.2 1373.2,1893.0 1375.8,1892.2 1378.5,1890.7 1380.8,1887.0 1382.8,1884.4 1385.3,1885.4 1388.4,1887.7 1391.8,1889.2" fill="none" stroke="#000000" stroke-width="2.7" stroke-linejoin="round"/>
<polyline points="980.7,1773.7 984.1,1769.9 987.1,1770.7 990.1,1771.4 992.8,1767.7 995.0,1765.1 997.7,1767.7 1001.5,1769.2 1004.5,1769.9 1006.8,1765.4 1009.5,1763.6 1012.8,1763.9 1015.8,1765.4 1018.8,1766.9 1021.9,1768.7 1024.9,1765.4 1027.6,1763.9 1030.6,1764.6 1033.2,1764.6 1036.2,1761.6 1039.3,1762.4 1043.0,1763.6 1046.8,1763.9 1051.4,1763.6 1054.4,1765.1 1056.6,1765.4 1059.7,1763.6 1062.7,1763.1 1065.7,1763.9 1068.0,1765.4 1070.6,1766.9 1073.3,1766.1 1075.5,1763.9 1077.5,1753.3 1079.3,1745.7 1082.3,1745.0 1085.4,1747.2 1088.7,1752.5 1091.1,1747.2 1093.7,1742.7 1096.0,1748.0 1098.7,1751.8 1101.2,1748.0 1103.5,1742.7 1106.5,1738.2 1108.8,1734.4 1111.1,1727.6 1113.3,1723.1 1115.6,1720.0 1117.9,1715.5 1120.1,1701.9 1122.4,1689.8 1124.7,1674.7 1127.0,1658.0 1129.2,1639.9 1131.5,1620.2 1133.8,1608.1 1136.5,1599.8 1139.8,1606.6 1142.8,1614.2 1145.8,1621.8 1148.1,1635.4 1150.4,1650.5 1152.7,1656.5 1155.7,1664.1 1157.9,1680.7 1159.8,1700.4 1162.5,1701.1 1165.2,1701.9 1167.3,1711.0 1169.3,1719.3 1172.3,1721.5 1175.3,1723.8 1177.9,1726.8 1180.6,1730.6 1183.6,1734.4 1186.4,1730.6 1188.5,1729.1 1188.3,1729.1 1192.6,1732.9 1196.3,1736.7 1199.4,1737.4 1202.4,1737.0 1205.4,1740.4 1208.0,1742.4 1211.0,1739.7 1214.0,1735.4 1216.8,1732.1 1221.0,1731.4 1224.0,1733.6 1227.0,1735.4 1230.4,1733.6 1233.4,1730.6 1236.7,1726.1 1240.2,1722.7 1243.2,1726.8 1245.5,1729.1 1248.5,1727.9 1250.3,1726.8 1252.7,1714.0 1254.9,1704.9 1257.3,1709.4 1259.1,1713.2 1263.6,1712.8 1266.6,1711.0 1269.7,1709.1 1272.7,1707.9 1275.7,1704.9 1278.4,1701.9 1282.5,1701.9 1286.3,1703.4 1289.6,1704.9 1292.3,1706.4 1294.6,1703.4 1296.9,1700.7 1299.6,1701.9 1302.2,1703.7 1304.4,1701.1 1306.7,1698.9 1309.0,1703.4 1311.7,1707.2 1315.0,1703.4 1317.3,1698.9 1319.6,1692.8 1322.6,1691.3 1325.6,1690.5 1327.9,1698.9 1330.1,1704.9 1332.9,1701.9 1335.4,1699.6 1338.5,1701.9 1341.5,1701.6 1344.5,1701.9 1347.5,1703.7 1350.6,1704.9 1353.6,1703.4 1357.4,1701.9 1360.4,1699.6 1363.4,1695.1 1365.7,1698.9 1367.9,1704.9 1371.0,1704.9 1374.0,1705.7 1377.0,1707.6 1380.0,1707.2 1383.1,1705.2 1384.6,1702.6 1387.3,1700.4 1389.4,1703.4 1391.8,1707.9" fill="none" stroke="#ff0000" stroke-width="2.7" stroke-linejoin="round"/>
<polyline points="980.7,1585.4 984.4,1583.9 987.1,1584.6 990.1,1585.7 993.9,1585.7 996.2,1581.6 998.4,1578.6 1000.7,1581.6 1003.7,1585.4 1006.8,1582.4 1009.8,1580.1 1013.6,1577.8 1017.3,1574.8 1019.6,1571.8 1022.2,1569.5 1024.9,1571.8 1027.6,1573.3 1030.9,1574.0 1034.0,1574.8 1036.7,1576.3 1039.3,1571.8 1041.5,1568.0 1045.3,1565.7 1049.1,1567.2 1052.1,1568.0 1055.1,1567.2 1058.2,1565.7 1061.2,1564.2 1065.0,1564.2 1068.0,1563.5 1071.0,1561.2 1074.5,1555.9 1077.1,1559.7 1079.6,1562.0 1082.3,1558.9 1085.4,1558.2 1088.4,1558.6 1091.4,1557.9 1094.4,1554.4 1096.7,1549.9 1098.7,1547.6 1100.8,1552.1 1103.2,1556.7 1105.0,1552.1 1107.3,1545.3 1110.3,1540.8 1112.9,1537.0 1114.9,1531.0 1116.8,1522.6 1118.6,1515.8 1120.9,1508.3 1122.9,1500.7 1124.7,1490.1 1127.0,1478.0 1129.2,1464.4 1131.5,1450.8 1133.8,1437.2 1135.6,1426.6 1137.1,1421.3 1139.0,1424.4 1141.3,1428.9 1143.6,1431.9 1145.8,1434.9 1147.4,1446.3 1148.9,1455.4 1150.4,1465.9 1152.7,1470.5 1155.2,1475.0 1157.2,1488.6 1158.7,1499.2 1160.2,1506.8 1162.5,1513.6 1164.7,1520.4 1167.0,1526.4 1169.3,1531.7 1171.6,1535.5 1174.6,1537.0 1177.6,1531.0 1179.9,1534.0 1182.1,1540.0 1185.2,1545.3 1188.2,1548.3 1188.3,1548.3 1191.8,1546.8 1194.8,1543.8 1198.3,1541.8 1201.6,1543.1 1204.7,1546.1 1207.7,1547.9 1211.0,1546.1 1214.5,1543.8 1217.1,1541.5 1219.5,1536.2 1221.6,1532.2 1225.1,1535.5 1228.1,1534.7 1230.7,1534.0 1233.4,1537.0 1236.4,1539.3 1239.7,1538.5 1242.8,1537.0 1245.5,1535.5 1247.3,1531.0 1249.7,1524.2 1252.7,1527.9 1254.9,1531.7 1257.3,1526.4 1259.4,1523.1 1262.1,1525.7 1264.4,1527.6 1266.9,1524.9 1269.7,1522.6 1272.7,1520.4 1275.7,1521.6 1279.0,1523.4 1281.8,1521.1 1284.8,1517.3 1287.8,1514.0 1291.6,1514.0 1294.2,1515.8 1297.2,1523.1 1299.9,1517.3 1302.9,1511.3 1306.0,1506.0 1308.7,1509.0 1311.2,1511.0 1315.0,1511.3 1318.1,1512.8 1320.8,1514.6 1323.3,1512.1 1326.4,1509.0 1330.1,1506.0 1333.9,1508.0 1337.0,1510.5 1340.0,1512.5 1343.5,1511.3 1346.5,1509.0 1349.8,1506.8 1352.1,1512.8 1354.3,1517.0 1357.4,1518.9 1360.4,1519.6 1363.7,1519.6 1366.4,1523.4 1368.2,1526.1 1371.3,1523.7 1374.0,1521.1 1376.7,1518.1 1380.0,1515.8 1383.4,1514.6 1386.8,1515.1 1389.1,1521.9 1391.8,1531.0" fill="none" stroke="#0000ff" stroke-width="2.7" stroke-linejoin="round"/>
<polyline points="980.7,1395.8 984.4,1397.4 987.9,1393.6 990.9,1390.6 993.9,1388.3 996.2,1391.3 999.2,1393.6 1003.0,1392.8 1005.2,1390.6 1008.3,1386.8 1012.0,1386.8 1015.1,1387.5 1018.1,1386.0 1020.4,1383.0 1022.6,1380.0 1024.9,1383.0 1027.6,1384.5 1030.6,1381.5 1033.2,1379.2 1036.2,1378.5 1039.3,1380.7 1042.3,1382.2 1045.3,1381.5 1048.3,1381.0 1051.4,1380.7 1054.4,1377.7 1057.4,1374.7 1060.4,1371.4 1064.2,1369.8 1067.2,1370.9 1070.0,1372.0 1073.3,1368.6 1076.3,1367.9 1079.3,1367.9 1082.3,1366.8 1086.1,1365.9 1089.9,1366.4 1092.9,1367.9 1096.0,1362.6 1098.2,1360.3 1100.5,1362.6 1103.2,1364.9 1105.3,1359.6 1108.1,1352.0 1111.1,1345.2 1113.3,1339.9 1115.6,1332.3 1117.9,1321.8 1120.1,1312.7 1122.4,1302.1 1124.7,1288.5 1127.0,1276.4 1129.2,1265.8 1131.5,1255.2 1133.8,1249.2 1136.0,1243.1 1138.3,1242.4 1141.0,1244.7 1142.8,1249.9 1145.1,1259.8 1147.4,1273.4 1149.6,1285.5 1151.9,1291.5 1154.2,1297.6 1156.4,1305.1 1158.7,1314.2 1161.0,1320.3 1164.0,1327.8 1166.3,1333.9 1168.5,1339.9 1170.8,1347.5 1173.1,1355.0 1176.1,1358.1 1179.1,1359.6 1181.4,1356.5 1184.4,1354.7 1186.7,1355.8 1189.7,1356.5 1192.6,1356.5 1195.6,1351.2 1198.3,1348.2 1201.6,1350.5 1204.7,1352.0 1208.4,1352.8 1211.5,1352.8 1214.5,1349.7 1217.1,1347.5 1220.5,1349.7 1222.8,1347.5 1225.5,1342.9 1228.1,1341.7 1231.1,1342.6 1233.4,1345.2 1236.1,1347.8 1238.7,1346.0 1241.7,1346.0 1245.2,1347.8 1247.3,1344.4 1249.7,1338.4 1252.3,1339.2 1255.3,1340.7 1258.3,1338.4 1261.4,1336.6 1264.4,1335.4 1267.4,1333.6 1269.7,1330.8 1272.7,1326.3 1275.7,1323.3 1279.0,1323.3 1283.0,1328.1 1285.5,1326.6 1289.3,1322.5 1292.7,1318.7 1295.4,1322.5 1298.7,1327.1 1302.2,1331.6 1304.4,1326.3 1306.7,1321.8 1309.0,1325.5 1311.7,1330.8 1315.0,1333.9 1317.7,1336.6 1320.8,1338.7 1323.3,1334.6 1325.6,1330.5 1328.6,1329.3 1331.4,1327.1 1334.7,1324.5 1337.0,1325.5 1340.0,1329.0 1342.2,1325.5 1344.5,1321.8 1347.1,1322.5 1349.8,1324.0 1352.1,1321.8 1354.3,1320.0 1356.6,1323.3 1358.9,1327.1 1361.1,1322.5 1363.4,1316.5 1365.7,1323.3 1368.2,1330.5 1371.0,1329.3 1374.0,1327.1 1377.0,1327.1 1380.0,1329.3 1382.3,1332.3 1384.6,1329.3 1387.6,1327.1 1389.9,1330.8 1392.4,1334.6" fill="none" stroke="#00ffff" stroke-width="2.7" stroke-linejoin="round"/>
<line x1="123.2" y1="1175.5" x2="1404.0" y2="1175.5" stroke="#333" stroke-width="1.3"/>
<line x1="123.2" y1="2026.5" x2="1404.0" y2="2026.5" stroke="#777" stroke-width="2.8"/>
<line x1="123.2" y1="1175.5" x2="123.2" y2="2027.5" stroke="#000" stroke-width="1.6"/>
<line x1="550.4" y1="1175.5" x2="550.4" y2="2027.5" stroke="#000" stroke-width="3"/>
<line x1="977.4" y1="1175.5" x2="977.4" y2="2027.5" stroke="#000" stroke-width="1.6"/>
<line x1="1404.0" y1="1175.5" x2="1404.0" y2="2027.5" stroke="#333" stroke-width="1.6"/>
<line x1="123.2" y1="1931.5" x2="137.2" y2="1931.5" stroke="#000" stroke-width="1.2"/>
<line x1="123.2" y1="1742.5" x2="137.2" y2="1742.5" stroke="#000" stroke-width="1.2"/>
<line x1="123.2" y1="1553.5" x2="137.2" y2="1553.5" stroke="#000" stroke-width="1.2"/>
<line x1="123.2" y1="1364.5" x2="137.2" y2="1364.5" stroke="#000" stroke-width="1.2"/>
<line x1="123.2" y1="1175.5" x2="137.2" y2="1175.5" stroke="#000" stroke-width="1.2"/>
<line x1="194.4" y1="2026.0" x2="194.4" y2="2013.0" stroke="#333" stroke-width="1.4"/>
<line x1="265.6" y1="2026.0" x2="265.6" y2="2013.0" stroke="#333" stroke-width="1.4"/>
<line x1="336.8" y1="2026.0" x2="336.8" y2="2013.0" stroke="#333" stroke-width="1.4"/>
<line x1="408.0" y1="2026.0" x2="408.0" y2="2013.0" stroke="#333" stroke-width="1.4"/>
<line x1="479.2" y1="2026.0" x2="479.2" y2="2013.0" stroke="#333" stroke-width="1.4"/>
<text filter="url(#gs)" x="123.2" y="2061.5" font-size="37" text-anchor="middle" font-weight="normal" font-style="normal" >0</text>
<text filter="url(#gs)" x="194.4" y="2061.5" font-size="37" text-anchor="middle" font-weight="normal" font-style="normal" >30</text>
<text filter="url(#gs)" x="265.6" y="2061.5" font-size="37" text-anchor="middle" font-weight="normal" font-style="normal" >60</text>
<text filter="url(#gs)" x="336.8" y="2061.5" font-size="37" text-anchor="middle" font-weight="normal" font-style="normal" >90</text>
<text filter="url(#gs)" x="408.0" y="2061.5" font-size="37" text-anchor="middle" font-weight="normal" font-style="normal" >120</text>
<text filter="url(#gs)" x="479.2" y="2061.5" font-size="37" text-anchor="middle" font-weight="normal" font-style="normal" >150</text>
<line x1="536.4" y1="1931.5" x2="564.4" y2="1931.5" stroke="#000" stroke-width="1.2"/>
<line x1="536.4" y1="1742.5" x2="564.4" y2="1742.5" stroke="#000" stroke-width="1.2"/>
<line x1="536.4" y1="1553.5" x2="564.4" y2="1553.5" stroke="#000" stroke-width="1.2"/>
<line x1="536.4" y1="1364.5" x2="564.4" y2="1364.5" stroke="#000" stroke-width="1.2"/>
<line x1="536.4" y1="1175.5" x2="564.4" y2="1175.5" stroke="#000" stroke-width="1.2"/>
<line x1="621.6" y1="2026.0" x2="621.6" y2="2013.0" stroke="#333" stroke-width="1.4"/>
<line x1="692.7" y1="2026.0" x2="692.7" y2="2013.0" stroke="#333" stroke-width="1.4"/>
<line x1="763.9" y1="2026.0" x2="763.9" y2="2013.0" stroke="#333" stroke-width="1.4"/>
<line x1="835.1" y1="2026.0" x2="835.1" y2="2013.0" stroke="#333" stroke-width="1.4"/>
<line x1="906.2" y1="2026.0" x2="906.2" y2="2013.0" stroke="#333" stroke-width="1.4"/>
<text filter="url(#gs)" x="621.6" y="2061.5" font-size="37" text-anchor="middle" font-weight="normal" font-style="normal" >30</text>
<text filter="url(#gs)" x="692.7" y="2061.5" font-size="37" text-anchor="middle" font-weight="normal" font-style="normal" >60</text>
<text filter="url(#gs)" x="763.9" y="2061.5" font-size="37" text-anchor="middle" font-weight="normal" font-style="normal" >90</text>
<text filter="url(#gs)" x="835.1" y="2061.5" font-size="37" text-anchor="middle" font-weight="normal" font-style="normal" >120</text>
<text filter="url(#gs)" x="906.2" y="2061.5" font-size="37" text-anchor="middle" font-weight="normal" font-style="normal" >150</text>
<line x1="963.4" y1="1931.5" x2="991.4" y2="1931.5" stroke="#000" stroke-width="1.2"/>
<line x1="963.4" y1="1742.5" x2="991.4" y2="1742.5" stroke="#000" stroke-width="1.2"/>
<line x1="963.4" y1="1553.5" x2="991.4" y2="1553.5" stroke="#000" stroke-width="1.2"/>
<line x1="963.4" y1="1364.5" x2="991.4" y2="1364.5" stroke="#000" stroke-width="1.2"/>
<line x1="963.4" y1="1175.5" x2="991.4" y2="1175.5" stroke="#000" stroke-width="1.2"/>
<line x1="1048.5" y1="2026.0" x2="1048.5" y2="2013.0" stroke="#333" stroke-width="1.4"/>
<line x1="1119.6" y1="2026.0" x2="1119.6" y2="2013.0" stroke="#333" stroke-width="1.4"/>
<line x1="1190.7" y1="2026.0" x2="1190.7" y2="2013.0" stroke="#333" stroke-width="1.4"/>
<line x1="1261.8" y1="2026.0" x2="1261.8" y2="2013.0" stroke="#333" stroke-width="1.4"/>
<line x1="1332.9" y1="2026.0" x2="1332.9" y2="2013.0" stroke="#333" stroke-width="1.4"/>
<text filter="url(#gs)" x="1048.5" y="2061.5" font-size="37" text-anchor="middle" font-weight="normal" font-style="normal" >30</text>
<text filter="url(#gs)" x="1119.6" y="2061.5" font-size="37" text-anchor="middle" font-weight="normal" font-style="normal" >60</text>
<text filter="url(#gs)" x="1190.7" y="2061.5" font-size="37" text-anchor="middle" font-weight="normal" font-style="normal" >90</text>
<text filter="url(#gs)" x="1261.8" y="2061.5" font-size="37" text-anchor="middle" font-weight="normal" font-style="normal" >120</text>
<text filter="url(#gs)" x="1332.9" y="2061.5" font-size="37" text-anchor="middle" font-weight="normal" font-style="normal" >150</text>
<text filter="url(#gs)" x="1404.0" y="2061.5" font-size="37" text-anchor="middle" font-weight="normal" font-style="normal" >180</text>
<text filter="url(#gs)" x="115.5" y="1942.0" font-size="37" text-anchor="end" font-weight="normal" font-style="normal" >1</text>
<text filter="url(#gs)" x="115.5" y="1753.0" font-size="37" text-anchor="end" font-weight="normal" font-style="normal" >2</text>
<text filter="url(#gs)" x="115.5" y="1564.0" font-size="37" text-anchor="end" font-weight="normal" font-style="normal" >3</text>
<text filter="url(#gs)" x="115.5" y="1375.0" font-size="37" text-anchor="end" font-weight="normal" font-style="normal" >4</text>
<text filter="url(#gs)" x="115.5" y="1186.0" font-size="37" text-anchor="end" font-weight="normal" font-style="normal" >5</text>
<text filter="url(#gs)" transform="translate(345.80,1144.00) scale(1,1.08)" font-size="48" text-anchor="middle" font-weight="normal" font-style="normal" >Si-Si-Si-Si</text>
<text filter="url(#gs)" transform="translate(761.70,1144.00) scale(1,1.08)" font-size="48" text-anchor="middle" font-weight="normal" font-style="normal" >Si-O-Si-O</text>
<text filter="url(#gs)" transform="translate(1192.00,1144.00) scale(1,1.08)" font-size="48" text-anchor="middle" font-weight="normal" font-style="normal" >O-O-O-O</text>
<text filter="url(#gs)" x="758.5" y="2137" font-size="36" text-anchor="middle">Angle (°)</text>
<text filter="url(#gs)" transform="translate(44.8,1604) rotate(-90)" font-size="35.7" text-anchor="middle"><tspan font-style="italic">B</tspan>(<tspan font-style="italic">&#952;</tspan>)</text>
</svg>
</body></html>
